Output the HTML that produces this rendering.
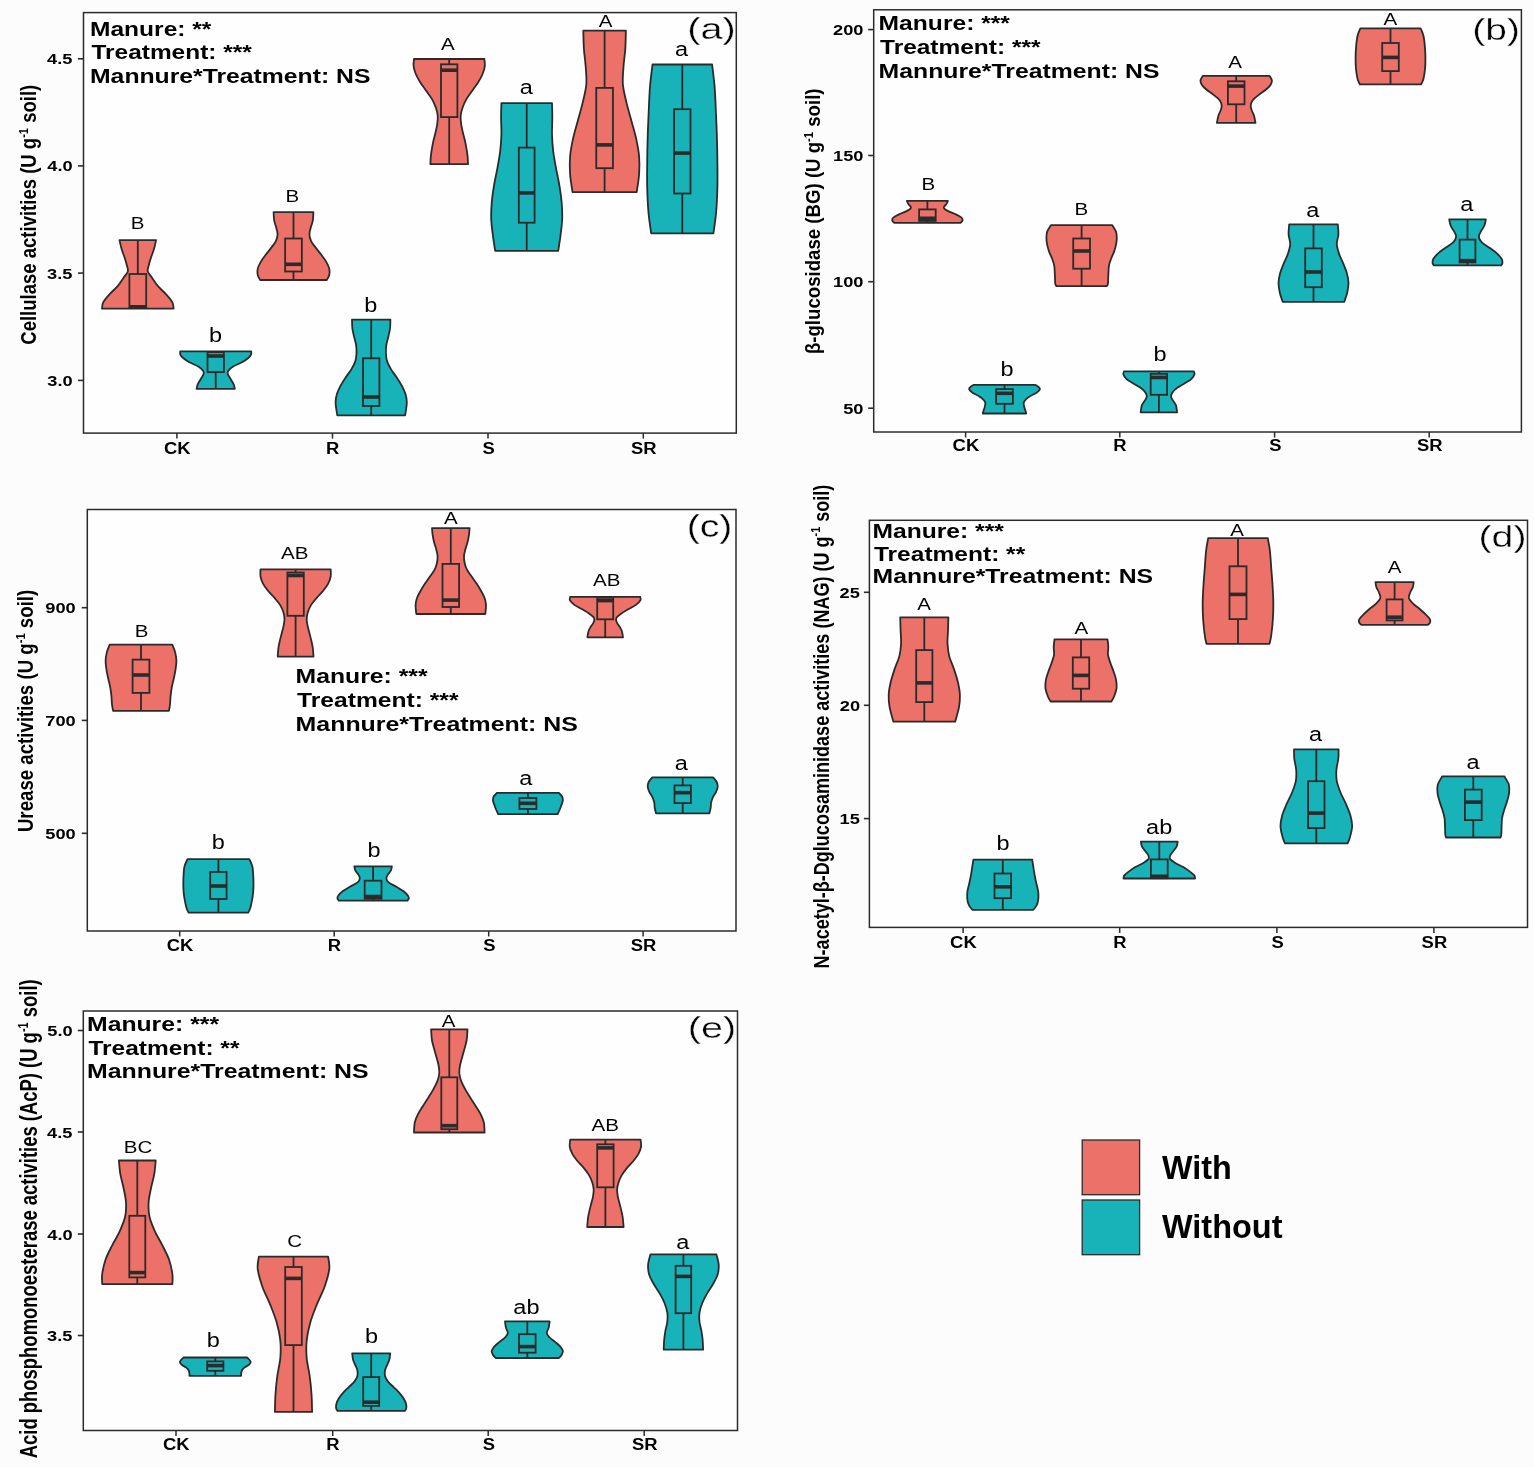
<!DOCTYPE html>
<html><head><meta charset="utf-8"><title>Soil enzyme activities</title>
<style>
html,body{margin:0;padding:0;background:#fcfcfc;}
svg{display:block;font-family:'Liberation Sans', Arial, sans-serif;}
</style></head>
<body>
<svg width="1534" height="1467" viewBox="0 0 1534 1467">
<rect x="0" y="0" width="1534" height="1467" fill="#fcfcfc"/>
<rect x="83.50" y="12.60" width="652.80" height="420.50" fill="#fefefe" stroke="none"/>
<path d="M156.10,240.10 C155.75,241.60 154.83,246.23 154.00,249.10 C153.17,251.97 151.98,254.57 151.10,257.30 C150.22,260.03 149.25,263.13 148.70,265.50 C148.15,267.87 147.25,269.47 147.80,271.50 C148.35,273.53 150.35,275.30 152.00,277.70 C153.65,280.10 155.38,283.17 157.70,285.90 C160.02,288.63 163.45,291.37 165.90,294.10 C168.35,296.83 171.12,299.88 172.40,302.30 C173.68,304.72 173.40,307.55 173.60,308.60 L102.00,308.60 C102.20,307.55 101.92,304.72 103.20,302.30 C104.48,299.88 107.25,296.83 109.70,294.10 C112.15,291.37 115.58,288.63 117.90,285.90 C120.22,283.17 121.95,280.10 123.60,277.70 C125.25,275.30 127.25,273.53 127.80,271.50 C128.35,269.47 127.45,267.87 126.90,265.50 C126.35,263.13 125.38,260.03 124.50,257.30 C123.62,254.57 122.43,251.97 121.60,249.10 C120.77,246.23 119.85,241.60 119.50,240.10 Z" fill="#ec7168" stroke="#2b2b2b" stroke-width="1.8" stroke-linejoin="round"/>
<line x1="137.80" y1="240.10" x2="137.80" y2="274.00" stroke="#2b2b2b" stroke-width="1.8"/>
<line x1="137.80" y1="308.00" x2="137.80" y2="308.60" stroke="#2b2b2b" stroke-width="1.8"/>
<rect x="129.40" y="274.00" width="16.80" height="34.00" fill="#ec7168" stroke="#2b2b2b" stroke-width="1.8"/>
<line x1="129.40" y1="306.80" x2="146.20" y2="306.80" stroke="#2b2b2b" stroke-width="3.6"/>
<text x="130.84" y="229.20" font-size="15.80" font-weight="normal" textLength="13.70" lengthAdjust="spacingAndGlyphs" fill="#000">B</text>
<path d="M251.20,351.40 C251.18,351.90 251.53,353.35 251.10,354.40 C250.67,355.45 250.12,356.40 248.60,357.70 C247.08,359.00 244.58,360.72 242.00,362.20 C239.42,363.68 235.42,365.13 233.10,366.60 C230.78,368.07 228.97,369.72 228.10,371.00 C227.23,372.28 227.52,373.00 227.90,374.30 C228.28,375.60 229.43,377.13 230.40,378.80 C231.37,380.47 232.97,382.63 233.70,384.30 C234.43,385.97 234.62,388.05 234.80,388.80 L196.60,388.80 C196.78,388.05 196.97,385.97 197.70,384.30 C198.43,382.63 200.03,380.47 201.00,378.80 C201.97,377.13 203.12,375.60 203.50,374.30 C203.88,373.00 204.17,372.28 203.30,371.00 C202.43,369.72 200.62,368.07 198.30,366.60 C195.98,365.13 191.98,363.68 189.40,362.20 C186.82,360.72 184.32,359.00 182.80,357.70 C181.28,356.40 180.73,355.45 180.30,354.40 C179.87,353.35 180.22,351.90 180.20,351.40 Z" fill="#17b3b8" stroke="#2b2b2b" stroke-width="1.8" stroke-linejoin="round"/>
<line x1="215.70" y1="351.40" x2="215.70" y2="352.20" stroke="#2b2b2b" stroke-width="1.8"/>
<line x1="215.70" y1="372.10" x2="215.70" y2="388.80" stroke="#2b2b2b" stroke-width="1.8"/>
<rect x="207.50" y="352.20" width="16.40" height="19.90" fill="#17b3b8" stroke="#2b2b2b" stroke-width="1.8"/>
<line x1="207.50" y1="356.00" x2="223.90" y2="356.00" stroke="#2b2b2b" stroke-width="3.6"/>
<text x="208.98" y="341.50" font-size="19.60" font-weight="normal" textLength="13.08" lengthAdjust="spacingAndGlyphs" fill="#000">b</text>
<path d="M313.40,212.20 C313.30,213.62 313.23,218.15 312.80,220.70 C312.37,223.25 311.37,225.23 310.80,227.50 C310.23,229.77 309.35,232.03 309.40,234.30 C309.45,236.57 310.02,238.83 311.10,241.10 C312.18,243.37 314.20,245.62 315.90,247.90 C317.60,250.18 319.60,252.52 321.30,254.80 C323.00,257.08 324.78,259.33 326.10,261.60 C327.42,263.87 328.68,266.13 329.20,268.40 C329.72,270.67 329.60,273.27 329.20,275.20 C328.80,277.13 327.20,279.20 326.80,280.00 L260.20,280.00 C259.80,279.20 258.20,277.13 257.80,275.20 C257.40,273.27 257.28,270.67 257.80,268.40 C258.32,266.13 259.58,263.87 260.90,261.60 C262.22,259.33 264.00,257.08 265.70,254.80 C267.40,252.52 269.40,250.18 271.10,247.90 C272.80,245.62 274.82,243.37 275.90,241.10 C276.98,238.83 277.55,236.57 277.60,234.30 C277.65,232.03 276.77,229.77 276.20,227.50 C275.63,225.23 274.63,223.25 274.20,220.70 C273.77,218.15 273.70,213.62 273.60,212.20 Z" fill="#ec7168" stroke="#2b2b2b" stroke-width="1.8" stroke-linejoin="round"/>
<line x1="293.50" y1="212.20" x2="293.50" y2="238.50" stroke="#2b2b2b" stroke-width="1.8"/>
<line x1="293.50" y1="271.50" x2="293.50" y2="280.00" stroke="#2b2b2b" stroke-width="1.8"/>
<rect x="285.15" y="238.50" width="16.70" height="33.00" fill="#ec7168" stroke="#2b2b2b" stroke-width="1.8"/>
<line x1="285.15" y1="264.30" x2="301.85" y2="264.30" stroke="#2b2b2b" stroke-width="3.6"/>
<text x="285.64" y="202.40" font-size="15.80" font-weight="normal" textLength="13.70" lengthAdjust="spacingAndGlyphs" fill="#000">B</text>
<path d="M390.40,319.60 C390.33,321.10 390.35,325.73 390.00,328.60 C389.65,331.47 388.92,334.07 388.30,336.80 C387.68,339.53 386.70,342.27 386.30,345.00 C385.90,347.73 385.77,350.47 385.90,353.20 C386.03,355.93 386.22,358.67 387.10,361.40 C387.98,364.13 389.57,366.88 391.20,369.60 C392.83,372.32 395.12,374.98 396.90,377.70 C398.68,380.42 400.47,383.17 401.90,385.90 C403.33,388.63 404.68,391.37 405.50,394.10 C406.32,396.83 406.73,399.57 406.80,402.30 C406.87,405.03 406.18,408.32 405.90,410.50 C405.62,412.68 405.23,414.58 405.10,415.40 L337.30,415.40 C337.17,414.58 336.78,412.68 336.50,410.50 C336.22,408.32 335.53,405.03 335.60,402.30 C335.67,399.57 336.08,396.83 336.90,394.10 C337.72,391.37 339.07,388.63 340.50,385.90 C341.93,383.17 343.72,380.42 345.50,377.70 C347.28,374.98 349.57,372.32 351.20,369.60 C352.83,366.88 354.42,364.13 355.30,361.40 C356.18,358.67 356.37,355.93 356.50,353.20 C356.63,350.47 356.50,347.73 356.10,345.00 C355.70,342.27 354.72,339.53 354.10,336.80 C353.48,334.07 352.75,331.47 352.40,328.60 C352.05,325.73 352.07,321.10 352.00,319.60 Z" fill="#17b3b8" stroke="#2b2b2b" stroke-width="1.8" stroke-linejoin="round"/>
<line x1="371.20" y1="319.60" x2="371.20" y2="358.30" stroke="#2b2b2b" stroke-width="1.8"/>
<line x1="371.20" y1="406.00" x2="371.20" y2="415.40" stroke="#2b2b2b" stroke-width="1.8"/>
<rect x="363.00" y="358.30" width="16.40" height="47.70" fill="#17b3b8" stroke="#2b2b2b" stroke-width="1.8"/>
<line x1="363.00" y1="397.00" x2="379.40" y2="397.00" stroke="#2b2b2b" stroke-width="3.6"/>
<text x="364.18" y="312.10" font-size="19.60" font-weight="normal" textLength="13.08" lengthAdjust="spacingAndGlyphs" fill="#000">b</text>
<path d="M484.40,59.00 C484.47,60.23 485.13,63.82 484.80,66.40 C484.47,68.98 483.55,71.78 482.40,74.50 C481.25,77.22 479.62,79.97 477.90,82.70 C476.18,85.43 474.02,88.17 472.10,90.90 C470.18,93.63 467.97,96.37 466.40,99.10 C464.83,101.83 463.65,104.57 462.70,107.30 C461.75,110.03 460.97,112.78 460.70,115.50 C460.43,118.22 460.77,120.88 461.10,123.60 C461.43,126.32 462.08,129.07 462.70,131.80 C463.32,134.53 464.18,137.27 464.80,140.00 C465.42,142.73 465.93,145.47 466.40,148.20 C466.87,150.93 467.33,153.73 467.60,156.40 C467.87,159.07 467.93,162.90 468.00,164.20 L430.40,164.20 C430.47,162.90 430.53,159.07 430.80,156.40 C431.07,153.73 431.53,150.93 432.00,148.20 C432.47,145.47 432.98,142.73 433.60,140.00 C434.22,137.27 435.08,134.53 435.70,131.80 C436.32,129.07 436.97,126.32 437.30,123.60 C437.63,120.88 437.97,118.22 437.70,115.50 C437.43,112.78 436.65,110.03 435.70,107.30 C434.75,104.57 433.57,101.83 432.00,99.10 C430.43,96.37 428.22,93.63 426.30,90.90 C424.38,88.17 422.22,85.43 420.50,82.70 C418.78,79.97 417.15,77.22 416.00,74.50 C414.85,71.78 413.93,68.98 413.60,66.40 C413.27,63.82 413.93,60.23 414.00,59.00 Z" fill="#ec7168" stroke="#2b2b2b" stroke-width="1.8" stroke-linejoin="round"/>
<line x1="449.20" y1="59.00" x2="449.20" y2="64.30" stroke="#2b2b2b" stroke-width="1.8"/>
<line x1="449.20" y1="117.10" x2="449.20" y2="164.20" stroke="#2b2b2b" stroke-width="1.8"/>
<rect x="441.00" y="64.30" width="16.40" height="52.80" fill="#ec7168" stroke="#2b2b2b" stroke-width="1.8"/>
<line x1="441.00" y1="70.20" x2="457.40" y2="70.20" stroke="#2b2b2b" stroke-width="3.6"/>
<text x="441.14" y="50.10" font-size="15.80" font-weight="normal" textLength="13.70" lengthAdjust="spacingAndGlyphs" fill="#000">A</text>
<path d="M552.00,103.10 C552.05,105.50 552.30,112.28 552.30,117.50 C552.30,122.72 551.85,128.78 552.00,134.40 C552.15,140.02 552.53,145.58 553.20,151.20 C553.87,156.82 554.98,162.47 556.00,168.10 C557.02,173.73 558.37,179.37 559.30,185.00 C560.23,190.63 561.12,196.28 561.60,201.90 C562.08,207.52 562.38,213.08 562.20,218.70 C562.02,224.32 561.17,230.25 560.50,235.60 C559.83,240.95 558.58,248.27 558.20,250.80 L495.20,250.80 C494.82,248.27 493.57,240.95 492.90,235.60 C492.23,230.25 491.38,224.32 491.20,218.70 C491.02,213.08 491.32,207.52 491.80,201.90 C492.28,196.28 493.17,190.63 494.10,185.00 C495.03,179.37 496.38,173.73 497.40,168.10 C498.42,162.47 499.53,156.82 500.20,151.20 C500.87,145.58 501.25,140.02 501.40,134.40 C501.55,128.78 501.10,122.72 501.10,117.50 C501.10,112.28 501.35,105.50 501.40,103.10 Z" fill="#17b3b8" stroke="#2b2b2b" stroke-width="1.8" stroke-linejoin="round"/>
<line x1="526.70" y1="103.10" x2="526.70" y2="147.60" stroke="#2b2b2b" stroke-width="1.8"/>
<line x1="526.70" y1="222.70" x2="526.70" y2="250.80" stroke="#2b2b2b" stroke-width="1.8"/>
<rect x="518.80" y="147.60" width="15.80" height="75.10" fill="#17b3b8" stroke="#2b2b2b" stroke-width="1.8"/>
<line x1="518.80" y1="192.90" x2="534.60" y2="192.90" stroke="#2b2b2b" stroke-width="3.6"/>
<text x="519.74" y="93.50" font-size="19.60" font-weight="normal" textLength="13.08" lengthAdjust="spacingAndGlyphs" fill="#000">a</text>
<path d="M625.90,30.60 C625.80,33.65 625.70,42.87 625.30,48.90 C624.90,54.93 623.90,60.83 623.50,66.80 C623.10,72.77 622.40,78.73 622.90,84.70 C623.40,90.67 625.10,96.63 626.50,102.60 C627.90,108.57 629.70,114.53 631.30,120.50 C632.90,126.47 634.80,132.43 636.10,138.40 C637.40,144.37 638.60,150.33 639.10,156.30 C639.60,162.27 639.50,168.23 639.10,174.20 C638.70,180.17 637.10,189.12 636.70,192.10 L572.50,192.10 C572.10,189.12 570.50,180.17 570.10,174.20 C569.70,168.23 569.60,162.27 570.10,156.30 C570.60,150.33 571.80,144.37 573.10,138.40 C574.40,132.43 576.30,126.47 577.90,120.50 C579.50,114.53 581.30,108.57 582.70,102.60 C584.10,96.63 585.80,90.67 586.30,84.70 C586.80,78.73 586.10,72.77 585.70,66.80 C585.30,60.83 584.30,54.93 583.90,48.90 C583.50,42.87 583.40,33.65 583.30,30.60 Z" fill="#ec7168" stroke="#2b2b2b" stroke-width="1.8" stroke-linejoin="round"/>
<line x1="604.60" y1="30.60" x2="604.60" y2="87.90" stroke="#2b2b2b" stroke-width="1.8"/>
<line x1="604.60" y1="168.20" x2="604.60" y2="192.10" stroke="#2b2b2b" stroke-width="1.8"/>
<rect x="596.25" y="87.90" width="16.70" height="80.30" fill="#ec7168" stroke="#2b2b2b" stroke-width="1.8"/>
<line x1="596.25" y1="144.90" x2="612.95" y2="144.90" stroke="#2b2b2b" stroke-width="3.6"/>
<text x="598.84" y="26.80" font-size="15.80" font-weight="normal" textLength="13.70" lengthAdjust="spacingAndGlyphs" fill="#000">A</text>
<path d="M712.10,64.50 C712.52,68.17 713.97,78.63 714.60,86.50 C715.23,94.37 715.52,103.28 715.90,111.70 C716.28,120.12 716.65,128.58 716.90,137.00 C717.15,145.42 717.32,153.80 717.40,162.20 C717.48,170.60 717.62,179.00 717.40,187.40 C717.18,195.80 716.77,204.93 716.10,212.60 C715.43,220.27 713.85,229.93 713.40,233.40 L651.20,233.40 C650.75,229.93 649.17,220.27 648.50,212.60 C647.83,204.93 647.42,195.80 647.20,187.40 C646.98,179.00 647.12,170.60 647.20,162.20 C647.28,153.80 647.45,145.42 647.70,137.00 C647.95,128.58 648.32,120.12 648.70,111.70 C649.08,103.28 649.37,94.37 650.00,86.50 C650.63,78.63 652.08,68.17 652.50,64.50 Z" fill="#17b3b8" stroke="#2b2b2b" stroke-width="1.8" stroke-linejoin="round"/>
<line x1="682.30" y1="64.50" x2="682.30" y2="109.20" stroke="#2b2b2b" stroke-width="1.8"/>
<line x1="682.30" y1="193.50" x2="682.30" y2="233.40" stroke="#2b2b2b" stroke-width="1.8"/>
<rect x="674.10" y="109.20" width="16.40" height="84.30" fill="#17b3b8" stroke="#2b2b2b" stroke-width="1.8"/>
<line x1="674.10" y1="153.10" x2="690.50" y2="153.10" stroke="#2b2b2b" stroke-width="3.6"/>
<text x="674.94" y="55.90" font-size="19.60" font-weight="normal" textLength="13.08" lengthAdjust="spacingAndGlyphs" fill="#000">a</text>
<rect x="83.50" y="12.60" width="652.80" height="420.50" fill="none" stroke="#2b2b2b" stroke-width="1.5"/>
<line x1="78.00" y1="58.80" x2="83.50" y2="58.80" stroke="#2b2b2b" stroke-width="1.6"/>
<text x="47.13" y="64.31" font-size="14.60" font-weight="bold" textLength="25.37" lengthAdjust="spacingAndGlyphs" fill="#000">4.5</text>
<line x1="78.00" y1="165.90" x2="83.50" y2="165.90" stroke="#2b2b2b" stroke-width="1.6"/>
<text x="47.36" y="171.41" font-size="14.60" font-weight="bold" textLength="25.37" lengthAdjust="spacingAndGlyphs" fill="#000">4.0</text>
<line x1="78.00" y1="273.10" x2="83.50" y2="273.10" stroke="#2b2b2b" stroke-width="1.6"/>
<text x="47.13" y="278.61" font-size="14.60" font-weight="bold" textLength="25.37" lengthAdjust="spacingAndGlyphs" fill="#000">3.5</text>
<line x1="78.00" y1="380.40" x2="83.50" y2="380.40" stroke="#2b2b2b" stroke-width="1.6"/>
<text x="47.36" y="385.91" font-size="14.60" font-weight="bold" textLength="25.37" lengthAdjust="spacingAndGlyphs" fill="#000">3.0</text>
<line x1="176.90" y1="433.10" x2="176.90" y2="438.60" stroke="#2b2b2b" stroke-width="1.5"/>
<text x="163.93" y="453.60" font-size="16.00" font-weight="bold" textLength="26.58" lengthAdjust="spacingAndGlyphs" fill="#000">CK</text>
<line x1="332.50" y1="433.10" x2="332.50" y2="438.60" stroke="#2b2b2b" stroke-width="1.5"/>
<text x="326.04" y="453.60" font-size="16.00" font-weight="bold" textLength="13.29" lengthAdjust="spacingAndGlyphs" fill="#000">R</text>
<line x1="488.00" y1="433.10" x2="488.00" y2="438.60" stroke="#2b2b2b" stroke-width="1.5"/>
<text x="482.55" y="453.60" font-size="16.00" font-weight="bold" textLength="12.27" lengthAdjust="spacingAndGlyphs" fill="#000">S</text>
<line x1="643.30" y1="433.10" x2="643.30" y2="438.60" stroke="#2b2b2b" stroke-width="1.5"/>
<text x="631.04" y="453.60" font-size="16.00" font-weight="bold" textLength="25.56" lengthAdjust="spacingAndGlyphs" fill="#000">SR</text>
<text x="90.04" y="35.80" font-size="19.80" font-weight="bold" textLength="121.37" lengthAdjust="spacingAndGlyphs" fill="#000">Manure: **</text>
<text x="91.46" y="58.90" font-size="19.80" font-weight="bold" textLength="160.31" lengthAdjust="spacingAndGlyphs" fill="#000">Treatment: ***</text>
<text x="90.03" y="82.80" font-size="19.80" font-weight="bold" textLength="280.42" lengthAdjust="spacingAndGlyphs" fill="#000">Mannure*Treatment: NS</text>
<text x="687.22" y="39.41" font-size="30.36" font-weight="normal" textLength="48.44" lengthAdjust="spacingAndGlyphs" fill="#000" stroke="#fefefe" stroke-width="0.35">(a)</text>
<text transform="translate(36.34,344.74) rotate(-90)" x="0" y="0" font-size="22.53" font-weight="bold" textLength="259.99" lengthAdjust="spacingAndGlyphs">Cellulase activities (U g<tspan font-size="13.52" dy="-8.56">-1</tspan><tspan dy="8.56"> soil)</tspan></text>
<rect x="873.70" y="9.80" width="647.70" height="422.20" fill="#fefefe" stroke="none"/>
<path d="M947.90,200.80 C947.67,201.32 947.18,202.75 946.50,203.90 C945.82,205.05 943.52,206.50 943.80,207.70 C944.08,208.90 946.18,209.98 948.20,211.10 C950.22,212.22 953.68,213.30 955.90,214.40 C958.12,215.50 960.38,216.68 961.50,217.70 C962.62,218.72 962.78,219.63 962.60,220.50 C962.42,221.37 960.77,222.50 960.40,222.90 L894.40,222.90 C894.03,222.50 892.38,221.37 892.20,220.50 C892.02,219.63 892.18,218.72 893.30,217.70 C894.42,216.68 896.68,215.50 898.90,214.40 C901.12,213.30 904.58,212.22 906.60,211.10 C908.62,209.98 910.72,208.90 911.00,207.70 C911.28,206.50 908.98,205.05 908.30,203.90 C907.62,202.75 907.13,201.32 906.90,200.80 Z" fill="#ec7168" stroke="#2b2b2b" stroke-width="1.8" stroke-linejoin="round"/>
<line x1="927.40" y1="200.80" x2="927.40" y2="209.40" stroke="#2b2b2b" stroke-width="1.8"/>
<line x1="927.40" y1="220.90" x2="927.40" y2="222.90" stroke="#2b2b2b" stroke-width="1.8"/>
<rect x="919.10" y="209.40" width="16.60" height="11.50" fill="#ec7168" stroke="#2b2b2b" stroke-width="1.8"/>
<line x1="919.10" y1="218.30" x2="935.70" y2="218.30" stroke="#2b2b2b" stroke-width="3.6"/>
<text x="921.44" y="189.90" font-size="15.80" font-weight="normal" textLength="13.70" lengthAdjust="spacingAndGlyphs" fill="#000">B</text>
<path d="M1035.50,384.90 C1036.03,385.28 1037.98,386.45 1038.70,387.20 C1039.42,387.95 1040.17,388.48 1039.80,389.40 C1039.43,390.32 1038.07,391.60 1036.50,392.70 C1034.93,393.80 1032.17,394.90 1030.40,396.00 C1028.63,397.10 1027.02,398.18 1025.90,399.30 C1024.78,400.42 1023.97,401.40 1023.70,402.70 C1023.43,404.00 1024.02,405.82 1024.30,407.10 C1024.58,408.38 1025.08,409.33 1025.40,410.40 C1025.72,411.47 1026.07,412.98 1026.20,413.50 L982.80,413.50 C982.93,412.98 983.28,411.47 983.60,410.40 C983.92,409.33 984.42,408.38 984.70,407.10 C984.98,405.82 985.57,404.00 985.30,402.70 C985.03,401.40 984.22,400.42 983.10,399.30 C981.98,398.18 980.37,397.10 978.60,396.00 C976.83,394.90 974.07,393.80 972.50,392.70 C970.93,391.60 969.57,390.32 969.20,389.40 C968.83,388.48 969.58,387.95 970.30,387.20 C971.02,386.45 972.97,385.28 973.50,384.90 Z" fill="#17b3b8" stroke="#2b2b2b" stroke-width="1.8" stroke-linejoin="round"/>
<line x1="1004.50" y1="384.90" x2="1004.50" y2="389.10" stroke="#2b2b2b" stroke-width="1.8"/>
<line x1="1004.50" y1="403.80" x2="1004.50" y2="413.50" stroke="#2b2b2b" stroke-width="1.8"/>
<rect x="996.10" y="389.10" width="16.80" height="14.70" fill="#17b3b8" stroke="#2b2b2b" stroke-width="1.8"/>
<line x1="996.10" y1="393.30" x2="1012.90" y2="393.30" stroke="#2b2b2b" stroke-width="3.6"/>
<text x="1000.48" y="376.20" font-size="19.60" font-weight="normal" textLength="13.08" lengthAdjust="spacingAndGlyphs" fill="#000">b</text>
<path d="M1112.30,225.20 C1112.92,226.27 1115.25,229.42 1116.00,231.60 C1116.75,233.78 1116.80,236.08 1116.80,238.30 C1116.80,240.52 1116.45,242.68 1116.00,244.90 C1115.55,247.12 1114.88,249.38 1114.10,251.60 C1113.32,253.82 1112.13,255.98 1111.30,258.20 C1110.47,260.42 1109.57,262.68 1109.10,264.90 C1108.63,267.12 1108.65,269.28 1108.50,271.50 C1108.35,273.72 1108.30,276.12 1108.20,278.20 C1108.10,280.28 1108.17,282.67 1107.90,284.00 C1107.63,285.33 1106.82,285.83 1106.60,286.20 L1056.60,286.20 C1056.38,285.83 1055.57,285.33 1055.30,284.00 C1055.03,282.67 1055.10,280.28 1055.00,278.20 C1054.90,276.12 1054.85,273.72 1054.70,271.50 C1054.55,269.28 1054.57,267.12 1054.10,264.90 C1053.63,262.68 1052.73,260.42 1051.90,258.20 C1051.07,255.98 1049.88,253.82 1049.10,251.60 C1048.32,249.38 1047.65,247.12 1047.20,244.90 C1046.75,242.68 1046.40,240.52 1046.40,238.30 C1046.40,236.08 1046.45,233.78 1047.20,231.60 C1047.95,229.42 1050.28,226.27 1050.90,225.20 Z" fill="#ec7168" stroke="#2b2b2b" stroke-width="1.8" stroke-linejoin="round"/>
<line x1="1081.60" y1="225.20" x2="1081.60" y2="238.50" stroke="#2b2b2b" stroke-width="1.8"/>
<line x1="1081.60" y1="268.70" x2="1081.60" y2="286.20" stroke="#2b2b2b" stroke-width="1.8"/>
<rect x="1073.20" y="238.50" width="16.80" height="30.20" fill="#ec7168" stroke="#2b2b2b" stroke-width="1.8"/>
<line x1="1073.20" y1="251.00" x2="1090.00" y2="251.00" stroke="#2b2b2b" stroke-width="3.6"/>
<text x="1074.44" y="215.20" font-size="15.80" font-weight="normal" textLength="13.70" lengthAdjust="spacingAndGlyphs" fill="#000">B</text>
<path d="M1193.70,371.30 C1193.83,371.80 1194.87,373.05 1194.50,374.30 C1194.13,375.55 1193.12,377.32 1191.50,378.80 C1189.88,380.28 1187.12,381.73 1184.80,383.20 C1182.48,384.67 1179.62,386.12 1177.60,387.60 C1175.58,389.08 1173.80,390.62 1172.70,392.10 C1171.60,393.58 1170.92,395.03 1171.00,396.50 C1171.08,397.97 1172.37,399.42 1173.20,400.90 C1174.03,402.38 1175.35,403.50 1176.00,405.40 C1176.65,407.30 1176.92,411.15 1177.10,412.30 L1140.70,412.30 C1140.88,411.15 1141.15,407.30 1141.80,405.40 C1142.45,403.50 1143.77,402.38 1144.60,400.90 C1145.43,399.42 1146.72,397.97 1146.80,396.50 C1146.88,395.03 1146.20,393.58 1145.10,392.10 C1144.00,390.62 1142.22,389.08 1140.20,387.60 C1138.18,386.12 1135.32,384.67 1133.00,383.20 C1130.68,381.73 1127.92,380.28 1126.30,378.80 C1124.68,377.32 1123.67,375.55 1123.30,374.30 C1122.93,373.05 1123.97,371.80 1124.10,371.30 Z" fill="#17b3b8" stroke="#2b2b2b" stroke-width="1.8" stroke-linejoin="round"/>
<line x1="1158.90" y1="371.30" x2="1158.90" y2="373.80" stroke="#2b2b2b" stroke-width="1.8"/>
<line x1="1158.90" y1="394.80" x2="1158.90" y2="412.30" stroke="#2b2b2b" stroke-width="1.8"/>
<rect x="1150.70" y="373.80" width="16.40" height="21.00" fill="#17b3b8" stroke="#2b2b2b" stroke-width="1.8"/>
<line x1="1150.70" y1="377.50" x2="1167.10" y2="377.50" stroke="#2b2b2b" stroke-width="3.6"/>
<text x="1153.58" y="361.10" font-size="19.60" font-weight="normal" textLength="13.08" lengthAdjust="spacingAndGlyphs" fill="#000">b</text>
<path d="M1269.60,75.80 C1269.98,76.58 1271.75,78.98 1271.90,80.50 C1272.05,82.02 1271.43,83.43 1270.50,84.90 C1269.57,86.37 1268.02,87.82 1266.30,89.30 C1264.58,90.78 1262.13,92.32 1260.20,93.80 C1258.27,95.28 1256.17,96.73 1254.70,98.20 C1253.23,99.67 1252.05,101.12 1251.40,102.60 C1250.75,104.08 1250.67,105.62 1250.80,107.10 C1250.93,108.58 1251.65,110.03 1252.20,111.50 C1252.75,112.97 1253.55,114.00 1254.10,115.90 C1254.65,117.80 1255.27,121.73 1255.50,122.90 L1216.90,122.90 C1217.13,121.73 1217.75,117.80 1218.30,115.90 C1218.85,114.00 1219.65,112.97 1220.20,111.50 C1220.75,110.03 1221.47,108.58 1221.60,107.10 C1221.73,105.62 1221.65,104.08 1221.00,102.60 C1220.35,101.12 1219.17,99.67 1217.70,98.20 C1216.23,96.73 1214.13,95.28 1212.20,93.80 C1210.27,92.32 1207.82,90.78 1206.10,89.30 C1204.38,87.82 1202.83,86.37 1201.90,84.90 C1200.97,83.43 1200.35,82.02 1200.50,80.50 C1200.65,78.98 1202.42,76.58 1202.80,75.80 Z" fill="#ec7168" stroke="#2b2b2b" stroke-width="1.8" stroke-linejoin="round"/>
<line x1="1236.20" y1="75.80" x2="1236.20" y2="81.30" stroke="#2b2b2b" stroke-width="1.8"/>
<line x1="1236.20" y1="104.30" x2="1236.20" y2="122.90" stroke="#2b2b2b" stroke-width="1.8"/>
<rect x="1227.90" y="81.30" width="16.60" height="23.00" fill="#ec7168" stroke="#2b2b2b" stroke-width="1.8"/>
<line x1="1227.90" y1="86.10" x2="1244.50" y2="86.10" stroke="#2b2b2b" stroke-width="3.6"/>
<text x="1228.34" y="68.30" font-size="15.80" font-weight="normal" textLength="13.70" lengthAdjust="spacingAndGlyphs" fill="#000">A</text>
<path d="M1337.80,224.40 C1337.90,226.07 1338.57,231.12 1338.40,234.40 C1338.23,237.68 1336.68,240.85 1336.80,244.10 C1336.92,247.35 1338.02,250.65 1339.10,253.90 C1340.18,257.15 1342.00,260.37 1343.30,263.60 C1344.60,266.83 1346.03,270.07 1346.90,273.30 C1347.77,276.53 1348.45,279.77 1348.50,283.00 C1348.55,286.23 1347.90,289.57 1347.20,292.70 C1346.50,295.83 1344.78,300.28 1344.30,301.80 L1282.70,301.80 C1282.22,300.28 1280.50,295.83 1279.80,292.70 C1279.10,289.57 1278.45,286.23 1278.50,283.00 C1278.55,279.77 1279.23,276.53 1280.10,273.30 C1280.97,270.07 1282.40,266.83 1283.70,263.60 C1285.00,260.37 1286.82,257.15 1287.90,253.90 C1288.98,250.65 1290.08,247.35 1290.20,244.10 C1290.32,240.85 1288.77,237.68 1288.60,234.40 C1288.43,231.12 1289.10,226.07 1289.20,224.40 Z" fill="#17b3b8" stroke="#2b2b2b" stroke-width="1.8" stroke-linejoin="round"/>
<line x1="1313.50" y1="224.40" x2="1313.50" y2="248.40" stroke="#2b2b2b" stroke-width="1.8"/>
<line x1="1313.50" y1="287.20" x2="1313.50" y2="301.80" stroke="#2b2b2b" stroke-width="1.8"/>
<rect x="1305.20" y="248.40" width="16.60" height="38.80" fill="#17b3b8" stroke="#2b2b2b" stroke-width="1.8"/>
<line x1="1305.20" y1="272.00" x2="1321.80" y2="272.00" stroke="#2b2b2b" stroke-width="3.6"/>
<text x="1306.34" y="217.40" font-size="19.60" font-weight="normal" textLength="13.08" lengthAdjust="spacingAndGlyphs" fill="#000">a</text>
<path d="M1420.60,28.30 C1421.08,29.58 1422.78,32.93 1423.50,36.00 C1424.22,39.07 1424.58,43.13 1424.90,46.70 C1425.22,50.27 1425.37,53.83 1425.40,57.40 C1425.43,60.97 1425.42,64.53 1425.10,68.10 C1424.78,71.67 1424.17,76.08 1423.50,78.80 C1422.83,81.52 1421.50,83.47 1421.10,84.40 L1359.90,84.40 C1359.50,83.47 1358.17,81.52 1357.50,78.80 C1356.83,76.08 1356.22,71.67 1355.90,68.10 C1355.58,64.53 1355.57,60.97 1355.60,57.40 C1355.63,53.83 1355.78,50.27 1356.10,46.70 C1356.42,43.13 1356.78,39.07 1357.50,36.00 C1358.22,32.93 1359.92,29.58 1360.40,28.30 Z" fill="#ec7168" stroke="#2b2b2b" stroke-width="1.8" stroke-linejoin="round"/>
<line x1="1390.50" y1="28.30" x2="1390.50" y2="43.00" stroke="#2b2b2b" stroke-width="1.8"/>
<line x1="1390.50" y1="71.10" x2="1390.50" y2="84.40" stroke="#2b2b2b" stroke-width="1.8"/>
<rect x="1382.20" y="43.00" width="16.60" height="28.10" fill="#ec7168" stroke="#2b2b2b" stroke-width="1.8"/>
<line x1="1382.20" y1="57.40" x2="1398.80" y2="57.40" stroke="#2b2b2b" stroke-width="3.6"/>
<text x="1383.64" y="24.70" font-size="15.80" font-weight="normal" textLength="13.70" lengthAdjust="spacingAndGlyphs" fill="#000">A</text>
<path d="M1485.80,219.40 C1485.57,220.42 1485.18,223.55 1484.40,225.50 C1483.62,227.45 1482.02,229.25 1481.10,231.10 C1480.18,232.95 1478.82,234.77 1478.90,236.60 C1478.98,238.43 1479.85,240.25 1481.60,242.10 C1483.35,243.95 1486.90,245.85 1489.40,247.70 C1491.90,249.55 1494.57,251.35 1496.60,253.20 C1498.63,255.05 1500.63,257.13 1501.60,258.80 C1502.57,260.47 1502.50,262.10 1502.40,263.20 C1502.30,264.30 1501.23,265.03 1501.00,265.40 L1434.00,265.40 C1433.77,265.03 1432.70,264.30 1432.60,263.20 C1432.50,262.10 1432.43,260.47 1433.40,258.80 C1434.37,257.13 1436.37,255.05 1438.40,253.20 C1440.43,251.35 1443.10,249.55 1445.60,247.70 C1448.10,245.85 1451.65,243.95 1453.40,242.10 C1455.15,240.25 1456.02,238.43 1456.10,236.60 C1456.18,234.77 1454.82,232.95 1453.90,231.10 C1452.98,229.25 1451.38,227.45 1450.60,225.50 C1449.82,223.55 1449.43,220.42 1449.20,219.40 Z" fill="#17b3b8" stroke="#2b2b2b" stroke-width="1.8" stroke-linejoin="round"/>
<line x1="1467.50" y1="219.40" x2="1467.50" y2="239.60" stroke="#2b2b2b" stroke-width="1.8"/>
<line x1="1467.50" y1="262.40" x2="1467.50" y2="265.40" stroke="#2b2b2b" stroke-width="1.8"/>
<rect x="1459.60" y="239.60" width="15.80" height="22.80" fill="#17b3b8" stroke="#2b2b2b" stroke-width="1.8"/>
<line x1="1459.60" y1="260.70" x2="1475.40" y2="260.70" stroke="#2b2b2b" stroke-width="3.6"/>
<text x="1460.24" y="210.50" font-size="19.60" font-weight="normal" textLength="13.08" lengthAdjust="spacingAndGlyphs" fill="#000">a</text>
<rect x="873.70" y="9.80" width="647.70" height="422.20" fill="none" stroke="#2b2b2b" stroke-width="1.5"/>
<line x1="868.20" y1="29.60" x2="873.70" y2="29.60" stroke="#2b2b2b" stroke-width="1.6"/>
<text x="833.00" y="35.11" font-size="14.60" font-weight="bold" textLength="30.45" lengthAdjust="spacingAndGlyphs" fill="#000">200</text>
<line x1="868.20" y1="155.50" x2="873.70" y2="155.50" stroke="#2b2b2b" stroke-width="1.6"/>
<text x="833.00" y="161.01" font-size="14.60" font-weight="bold" textLength="30.45" lengthAdjust="spacingAndGlyphs" fill="#000">150</text>
<line x1="868.20" y1="281.70" x2="873.70" y2="281.70" stroke="#2b2b2b" stroke-width="1.6"/>
<text x="833.00" y="287.21" font-size="14.60" font-weight="bold" textLength="30.45" lengthAdjust="spacingAndGlyphs" fill="#000">100</text>
<line x1="868.20" y1="408.20" x2="873.70" y2="408.20" stroke="#2b2b2b" stroke-width="1.6"/>
<text x="843.17" y="413.71" font-size="14.60" font-weight="bold" textLength="20.30" lengthAdjust="spacingAndGlyphs" fill="#000">50</text>
<line x1="965.60" y1="432.00" x2="965.60" y2="437.50" stroke="#2b2b2b" stroke-width="1.5"/>
<text x="952.63" y="451.10" font-size="16.00" font-weight="bold" textLength="26.58" lengthAdjust="spacingAndGlyphs" fill="#000">CK</text>
<line x1="1119.80" y1="432.00" x2="1119.80" y2="437.50" stroke="#2b2b2b" stroke-width="1.5"/>
<text x="1113.34" y="451.10" font-size="16.00" font-weight="bold" textLength="13.29" lengthAdjust="spacingAndGlyphs" fill="#000">R</text>
<line x1="1274.60" y1="432.00" x2="1274.60" y2="437.50" stroke="#2b2b2b" stroke-width="1.5"/>
<text x="1269.15" y="451.10" font-size="16.00" font-weight="bold" textLength="12.27" lengthAdjust="spacingAndGlyphs" fill="#000">S</text>
<line x1="1429.20" y1="432.00" x2="1429.20" y2="437.50" stroke="#2b2b2b" stroke-width="1.5"/>
<text x="1416.94" y="451.10" font-size="16.00" font-weight="bold" textLength="25.56" lengthAdjust="spacingAndGlyphs" fill="#000">SR</text>
<text x="878.64" y="30.00" font-size="19.80" font-weight="bold" textLength="131.31" lengthAdjust="spacingAndGlyphs" fill="#000">Manure: ***</text>
<text x="880.06" y="53.50" font-size="19.80" font-weight="bold" textLength="160.41" lengthAdjust="spacingAndGlyphs" fill="#000">Treatment: ***</text>
<text x="878.63" y="77.70" font-size="19.80" font-weight="bold" textLength="280.82" lengthAdjust="spacingAndGlyphs" fill="#000">Mannure*Treatment: NS</text>
<text x="1472.37" y="39.83" font-size="29.83" font-weight="normal" textLength="47.55" lengthAdjust="spacingAndGlyphs" fill="#000" stroke="#fefefe" stroke-width="0.35">(b)</text>
<text transform="translate(820.32,354.10) rotate(-90)" x="0" y="0" font-size="20.17" font-weight="bold" textLength="265.66" lengthAdjust="spacingAndGlyphs">β-glucosidase (BG) (U g<tspan font-size="12.10" dy="-7.67">-1</tspan><tspan dy="7.67"> soil)</tspan></text>
<rect x="87.30" y="509.50" width="648.70" height="421.50" fill="#fefefe" stroke="none"/>
<path d="M172.30,644.60 C172.78,645.90 174.52,649.65 175.20,652.40 C175.88,655.15 176.35,658.20 176.40,661.10 C176.45,664.00 175.93,666.90 175.50,669.80 C175.07,672.70 174.42,675.62 173.80,678.50 C173.18,681.38 172.33,684.22 171.80,687.10 C171.27,689.98 170.90,692.90 170.60,695.80 C170.30,698.70 170.28,701.98 170.00,704.50 C169.72,707.02 169.08,709.83 168.90,710.90 L113.10,710.90 C112.92,709.83 112.28,707.02 112.00,704.50 C111.72,701.98 111.70,698.70 111.40,695.80 C111.10,692.90 110.73,689.98 110.20,687.10 C109.67,684.22 108.82,681.38 108.20,678.50 C107.58,675.62 106.93,672.70 106.50,669.80 C106.07,666.90 105.55,664.00 105.60,661.10 C105.65,658.20 106.12,655.15 106.80,652.40 C107.48,649.65 109.22,645.90 109.70,644.60 Z" fill="#ec7168" stroke="#2b2b2b" stroke-width="1.8" stroke-linejoin="round"/>
<line x1="141.00" y1="644.60" x2="141.00" y2="659.60" stroke="#2b2b2b" stroke-width="1.8"/>
<line x1="141.00" y1="692.90" x2="141.00" y2="710.90" stroke="#2b2b2b" stroke-width="1.8"/>
<rect x="132.60" y="659.60" width="16.80" height="33.30" fill="#ec7168" stroke="#2b2b2b" stroke-width="1.8"/>
<line x1="132.60" y1="675.00" x2="149.40" y2="675.00" stroke="#2b2b2b" stroke-width="3.6"/>
<text x="134.74" y="637.00" font-size="15.80" font-weight="normal" textLength="13.70" lengthAdjust="spacingAndGlyphs" fill="#000">B</text>
<path d="M249.30,859.10 C249.82,860.35 251.75,863.97 252.40,866.60 C253.05,869.23 253.02,872.13 253.20,874.90 C253.38,877.67 253.50,880.42 253.50,883.20 C253.50,885.98 253.43,888.82 253.20,891.60 C252.97,894.38 252.60,897.13 252.10,899.90 C251.60,902.67 250.85,906.08 250.20,908.20 C249.55,910.32 248.53,911.87 248.20,912.60 L188.60,912.60 C188.27,911.87 187.25,910.32 186.60,908.20 C185.95,906.08 185.20,902.67 184.70,899.90 C184.20,897.13 183.83,894.38 183.60,891.60 C183.37,888.82 183.30,885.98 183.30,883.20 C183.30,880.42 183.42,877.67 183.60,874.90 C183.78,872.13 183.75,869.23 184.40,866.60 C185.05,863.97 186.98,860.35 187.50,859.10 Z" fill="#17b3b8" stroke="#2b2b2b" stroke-width="1.8" stroke-linejoin="round"/>
<line x1="218.40" y1="859.10" x2="218.40" y2="871.90" stroke="#2b2b2b" stroke-width="1.8"/>
<line x1="218.40" y1="899.00" x2="218.40" y2="912.60" stroke="#2b2b2b" stroke-width="1.8"/>
<rect x="210.20" y="871.90" width="16.40" height="27.10" fill="#17b3b8" stroke="#2b2b2b" stroke-width="1.8"/>
<line x1="210.20" y1="886.00" x2="226.60" y2="886.00" stroke="#2b2b2b" stroke-width="3.6"/>
<text x="211.68" y="849.10" font-size="19.60" font-weight="normal" textLength="13.08" lengthAdjust="spacingAndGlyphs" fill="#000">b</text>
<path d="M330.70,569.30 C330.70,570.50 331.12,574.12 330.70,576.50 C330.28,578.88 329.45,581.22 328.20,583.60 C326.95,585.98 325.12,588.42 323.20,590.80 C321.28,593.18 318.73,595.52 316.70,597.90 C314.67,600.28 312.48,602.70 311.00,605.10 C309.52,607.50 308.52,609.92 307.80,612.30 C307.08,614.68 306.70,617.02 306.70,619.40 C306.70,621.78 307.32,624.22 307.80,626.60 C308.28,628.98 309.00,631.32 309.60,633.70 C310.20,636.08 310.87,638.52 311.40,640.90 C311.93,643.28 312.45,645.38 312.80,648.00 C313.15,650.62 313.38,655.17 313.50,656.60 L277.70,656.60 C277.82,655.17 278.05,650.62 278.40,648.00 C278.75,645.38 279.27,643.28 279.80,640.90 C280.33,638.52 281.00,636.08 281.60,633.70 C282.20,631.32 282.92,628.98 283.40,626.60 C283.88,624.22 284.50,621.78 284.50,619.40 C284.50,617.02 284.12,614.68 283.40,612.30 C282.68,609.92 281.68,607.50 280.20,605.10 C278.72,602.70 276.53,600.28 274.50,597.90 C272.47,595.52 269.92,593.18 268.00,590.80 C266.08,588.42 264.25,585.98 263.00,583.60 C261.75,581.22 260.92,578.88 260.50,576.50 C260.08,574.12 260.50,570.50 260.50,569.30 Z" fill="#ec7168" stroke="#2b2b2b" stroke-width="1.8" stroke-linejoin="round"/>
<line x1="295.60" y1="569.30" x2="295.60" y2="572.50" stroke="#2b2b2b" stroke-width="1.8"/>
<line x1="295.60" y1="615.80" x2="295.60" y2="656.60" stroke="#2b2b2b" stroke-width="1.8"/>
<rect x="287.40" y="572.50" width="16.40" height="43.30" fill="#ec7168" stroke="#2b2b2b" stroke-width="1.8"/>
<line x1="287.40" y1="575.50" x2="303.80" y2="575.50" stroke="#2b2b2b" stroke-width="3.6"/>
<text x="281.10" y="559.00" font-size="15.80" font-weight="normal" textLength="27.40" lengthAdjust="spacingAndGlyphs" fill="#000">AB</text>
<path d="M391.90,866.30 C391.72,867.03 391.48,869.32 390.80,870.70 C390.12,872.08 388.53,873.30 387.80,874.60 C387.07,875.90 386.27,877.20 386.40,878.50 C386.53,879.80 386.93,881.02 388.60,882.40 C390.27,883.78 393.90,885.33 396.40,886.80 C398.90,888.27 401.67,889.72 403.60,891.20 C405.53,892.68 407.13,894.50 408.00,895.70 C408.87,896.90 408.90,897.57 408.80,898.40 C408.70,899.23 407.63,900.32 407.40,900.70 L338.80,900.70 C338.57,900.32 337.50,899.23 337.40,898.40 C337.30,897.57 337.33,896.90 338.20,895.70 C339.07,894.50 340.67,892.68 342.60,891.20 C344.53,889.72 347.30,888.27 349.80,886.80 C352.30,885.33 355.93,883.78 357.60,882.40 C359.27,881.02 359.67,879.80 359.80,878.50 C359.93,877.20 359.13,875.90 358.40,874.60 C357.67,873.30 356.08,872.08 355.40,870.70 C354.72,869.32 354.48,867.03 354.30,866.30 Z" fill="#17b3b8" stroke="#2b2b2b" stroke-width="1.8" stroke-linejoin="round"/>
<line x1="373.10" y1="866.30" x2="373.10" y2="880.70" stroke="#2b2b2b" stroke-width="1.8"/>
<line x1="373.10" y1="898.70" x2="373.10" y2="900.70" stroke="#2b2b2b" stroke-width="1.8"/>
<rect x="364.70" y="880.70" width="16.80" height="18.00" fill="#17b3b8" stroke="#2b2b2b" stroke-width="1.8"/>
<line x1="364.70" y1="896.50" x2="381.50" y2="896.50" stroke="#2b2b2b" stroke-width="3.6"/>
<text x="367.48" y="857.30" font-size="19.60" font-weight="normal" textLength="13.08" lengthAdjust="spacingAndGlyphs" fill="#000">b</text>
<path d="M469.60,528.10 C469.48,529.32 469.25,533.03 468.90,535.40 C468.55,537.77 468.08,539.98 467.50,542.30 C466.92,544.62 465.98,546.98 465.40,549.30 C464.82,551.62 464.12,553.88 464.00,556.20 C463.88,558.52 464.17,560.87 464.70,563.20 C465.23,565.53 465.98,567.88 467.20,570.20 C468.42,572.52 470.38,574.78 472.00,577.10 C473.62,579.42 475.38,581.78 476.90,584.10 C478.42,586.42 479.82,588.68 481.10,591.00 C482.38,593.32 483.78,595.68 484.60,598.00 C485.42,600.32 485.88,602.23 486.00,604.90 C486.12,607.57 485.42,612.48 485.30,614.00 L416.30,614.00 C416.18,612.48 415.48,607.57 415.60,604.90 C415.72,602.23 416.18,600.32 417.00,598.00 C417.82,595.68 419.22,593.32 420.50,591.00 C421.78,588.68 423.18,586.42 424.70,584.10 C426.22,581.78 427.98,579.42 429.60,577.10 C431.22,574.78 433.18,572.52 434.40,570.20 C435.62,567.88 436.37,565.53 436.90,563.20 C437.43,560.87 437.72,558.52 437.60,556.20 C437.48,553.88 436.78,551.62 436.20,549.30 C435.62,546.98 434.68,544.62 434.10,542.30 C433.52,539.98 433.05,537.77 432.70,535.40 C432.35,533.03 432.12,529.32 432.00,528.10 Z" fill="#ec7168" stroke="#2b2b2b" stroke-width="1.8" stroke-linejoin="round"/>
<line x1="450.80" y1="528.10" x2="450.80" y2="563.90" stroke="#2b2b2b" stroke-width="1.8"/>
<line x1="450.80" y1="607.00" x2="450.80" y2="614.00" stroke="#2b2b2b" stroke-width="1.8"/>
<rect x="442.50" y="563.90" width="16.60" height="43.10" fill="#ec7168" stroke="#2b2b2b" stroke-width="1.8"/>
<line x1="442.50" y1="600.10" x2="459.10" y2="600.10" stroke="#2b2b2b" stroke-width="3.6"/>
<text x="444.04" y="524.30" font-size="15.80" font-weight="normal" textLength="13.70" lengthAdjust="spacingAndGlyphs" fill="#000">A</text>
<path d="M558.90,792.80 C559.43,793.42 561.45,795.20 562.10,796.50 C562.75,797.80 562.90,799.22 562.80,800.60 C562.70,801.98 561.97,803.40 561.50,804.80 C561.03,806.20 560.65,807.43 560.00,809.00 C559.35,810.57 558.00,813.33 557.60,814.20 L498.20,814.20 C497.80,813.33 496.45,810.57 495.80,809.00 C495.15,807.43 494.77,806.20 494.30,804.80 C493.83,803.40 493.10,801.98 493.00,800.60 C492.90,799.22 493.05,797.80 493.70,796.50 C494.35,795.20 496.37,793.42 496.90,792.80 Z" fill="#17b3b8" stroke="#2b2b2b" stroke-width="1.8" stroke-linejoin="round"/>
<line x1="527.90" y1="792.80" x2="527.90" y2="798.00" stroke="#2b2b2b" stroke-width="1.8"/>
<line x1="527.90" y1="809.00" x2="527.90" y2="814.20" stroke="#2b2b2b" stroke-width="1.8"/>
<rect x="519.40" y="798.00" width="17.00" height="11.00" fill="#17b3b8" stroke="#2b2b2b" stroke-width="1.8"/>
<line x1="519.40" y1="803.30" x2="536.40" y2="803.30" stroke="#2b2b2b" stroke-width="3.6"/>
<text x="519.24" y="785.20" font-size="19.60" font-weight="normal" textLength="13.08" lengthAdjust="spacingAndGlyphs" fill="#000">a</text>
<path d="M640.20,596.90 C640.25,597.45 641.15,598.92 640.50,600.20 C639.85,601.48 638.28,603.12 636.30,604.60 C634.32,606.08 631.08,607.62 628.60,609.10 C626.12,610.58 623.43,612.03 621.40,613.50 C619.37,614.97 617.18,616.43 616.40,617.90 C615.62,619.37 616.15,620.82 616.70,622.30 C617.25,623.78 618.83,625.32 619.70,626.80 C620.57,628.28 621.35,629.45 621.90,631.20 C622.45,632.95 622.82,636.28 623.00,637.30 L587.40,637.30 C587.58,636.28 587.95,632.95 588.50,631.20 C589.05,629.45 589.83,628.28 590.70,626.80 C591.57,625.32 593.15,623.78 593.70,622.30 C594.25,620.82 594.78,619.37 594.00,617.90 C593.22,616.43 591.03,614.97 589.00,613.50 C586.97,612.03 584.28,610.58 581.80,609.10 C579.32,607.62 576.08,606.08 574.10,604.60 C572.12,603.12 570.55,601.48 569.90,600.20 C569.25,598.92 570.15,597.45 570.20,596.90 Z" fill="#ec7168" stroke="#2b2b2b" stroke-width="1.8" stroke-linejoin="round"/>
<line x1="605.20" y1="596.90" x2="605.20" y2="597.70" stroke="#2b2b2b" stroke-width="1.8"/>
<line x1="605.20" y1="619.30" x2="605.20" y2="637.30" stroke="#2b2b2b" stroke-width="1.8"/>
<rect x="597.20" y="597.70" width="16.00" height="21.60" fill="#ec7168" stroke="#2b2b2b" stroke-width="1.8"/>
<line x1="597.20" y1="600.60" x2="613.20" y2="600.60" stroke="#2b2b2b" stroke-width="3.6"/>
<text x="593.00" y="586.40" font-size="15.80" font-weight="normal" textLength="27.40" lengthAdjust="spacingAndGlyphs" fill="#000">AB</text>
<path d="M713.00,777.30 C713.62,778.08 715.92,780.43 716.70,782.00 C717.48,783.57 717.80,785.05 717.70,786.70 C717.60,788.35 716.88,790.17 716.10,791.90 C715.32,793.63 713.82,795.37 713.00,797.10 C712.18,798.83 711.58,800.57 711.20,802.30 C710.82,804.03 711.00,805.67 710.70,807.50 C710.40,809.33 709.62,812.33 709.40,813.30 L656.00,813.30 C655.78,812.33 655.00,809.33 654.70,807.50 C654.40,805.67 654.58,804.03 654.20,802.30 C653.82,800.57 653.22,798.83 652.40,797.10 C651.58,795.37 650.08,793.63 649.30,791.90 C648.52,790.17 647.80,788.35 647.70,786.70 C647.60,785.05 647.92,783.57 648.70,782.00 C649.48,780.43 651.78,778.08 652.40,777.30 Z" fill="#17b3b8" stroke="#2b2b2b" stroke-width="1.8" stroke-linejoin="round"/>
<line x1="682.70" y1="777.30" x2="682.70" y2="785.40" stroke="#2b2b2b" stroke-width="1.8"/>
<line x1="682.70" y1="803.10" x2="682.70" y2="813.30" stroke="#2b2b2b" stroke-width="1.8"/>
<rect x="674.50" y="785.40" width="16.40" height="17.70" fill="#17b3b8" stroke="#2b2b2b" stroke-width="1.8"/>
<line x1="674.50" y1="792.70" x2="690.90" y2="792.70" stroke="#2b2b2b" stroke-width="3.6"/>
<text x="674.84" y="769.70" font-size="19.60" font-weight="normal" textLength="13.08" lengthAdjust="spacingAndGlyphs" fill="#000">a</text>
<rect x="87.30" y="509.50" width="648.70" height="421.50" fill="none" stroke="#2b2b2b" stroke-width="1.5"/>
<line x1="81.80" y1="607.70" x2="87.30" y2="607.70" stroke="#2b2b2b" stroke-width="1.6"/>
<text x="45.30" y="613.21" font-size="14.60" font-weight="bold" textLength="30.45" lengthAdjust="spacingAndGlyphs" fill="#000">900</text>
<line x1="81.80" y1="720.40" x2="87.30" y2="720.40" stroke="#2b2b2b" stroke-width="1.6"/>
<text x="45.30" y="725.91" font-size="14.60" font-weight="bold" textLength="30.45" lengthAdjust="spacingAndGlyphs" fill="#000">700</text>
<line x1="81.80" y1="833.30" x2="87.30" y2="833.30" stroke="#2b2b2b" stroke-width="1.6"/>
<text x="45.30" y="838.81" font-size="14.60" font-weight="bold" textLength="30.45" lengthAdjust="spacingAndGlyphs" fill="#000">500</text>
<line x1="179.70" y1="931.00" x2="179.70" y2="936.50" stroke="#2b2b2b" stroke-width="1.5"/>
<text x="166.73" y="951.00" font-size="16.00" font-weight="bold" textLength="26.58" lengthAdjust="spacingAndGlyphs" fill="#000">CK</text>
<line x1="334.20" y1="931.00" x2="334.20" y2="936.50" stroke="#2b2b2b" stroke-width="1.5"/>
<text x="327.74" y="951.00" font-size="16.00" font-weight="bold" textLength="13.29" lengthAdjust="spacingAndGlyphs" fill="#000">R</text>
<line x1="488.70" y1="931.00" x2="488.70" y2="936.50" stroke="#2b2b2b" stroke-width="1.5"/>
<text x="483.25" y="951.00" font-size="16.00" font-weight="bold" textLength="12.27" lengthAdjust="spacingAndGlyphs" fill="#000">S</text>
<line x1="643.10" y1="931.00" x2="643.10" y2="936.50" stroke="#2b2b2b" stroke-width="1.5"/>
<text x="630.84" y="951.00" font-size="16.00" font-weight="bold" textLength="25.56" lengthAdjust="spacingAndGlyphs" fill="#000">SR</text>
<text x="295.63" y="682.80" font-size="19.80" font-weight="bold" textLength="131.92" lengthAdjust="spacingAndGlyphs" fill="#000">Manure: ***</text>
<text x="297.05" y="706.90" font-size="19.80" font-weight="bold" textLength="161.42" lengthAdjust="spacingAndGlyphs" fill="#000">Treatment: ***</text>
<text x="295.62" y="730.90" font-size="19.80" font-weight="bold" textLength="282.23" lengthAdjust="spacingAndGlyphs" fill="#000">Mannure*Treatment: NS</text>
<text x="686.65" y="537.47" font-size="30.58" font-weight="normal" textLength="45.75" lengthAdjust="spacingAndGlyphs" fill="#000" stroke="#fefefe" stroke-width="0.35">(c)</text>
<text transform="translate(33.27,832.12) rotate(-90)" x="0" y="0" font-size="21.89" font-weight="bold" textLength="242.37" lengthAdjust="spacingAndGlyphs">Urease activities (U g<tspan font-size="13.13" dy="-8.32">-1</tspan><tspan dy="8.32"> soil)</tspan></text>
<rect x="869.40" y="520.30" width="658.10" height="407.10" fill="#fefefe" stroke="none"/>
<path d="M948.40,617.40 C948.33,619.60 948.15,626.28 948.00,630.60 C947.85,634.92 947.30,639.05 947.50,643.30 C947.70,647.55 948.13,651.83 949.20,656.10 C950.27,660.37 952.47,664.63 953.90,668.90 C955.33,673.17 956.80,677.45 957.80,681.70 C958.80,685.95 959.70,690.15 959.90,694.40 C960.10,698.65 959.78,702.65 959.00,707.20 C958.22,711.75 955.83,719.28 955.20,721.70 L893.40,721.70 C892.77,719.28 890.38,711.75 889.60,707.20 C888.82,702.65 888.50,698.65 888.70,694.40 C888.90,690.15 889.80,685.95 890.80,681.70 C891.80,677.45 893.27,673.17 894.70,668.90 C896.13,664.63 898.33,660.37 899.40,656.10 C900.47,651.83 900.90,647.55 901.10,643.30 C901.30,639.05 900.75,634.92 900.60,630.60 C900.45,626.28 900.27,619.60 900.20,617.40 Z" fill="#ec7168" stroke="#2b2b2b" stroke-width="1.8" stroke-linejoin="round"/>
<line x1="924.30" y1="617.40" x2="924.30" y2="650.10" stroke="#2b2b2b" stroke-width="1.8"/>
<line x1="924.30" y1="702.10" x2="924.30" y2="721.70" stroke="#2b2b2b" stroke-width="1.8"/>
<rect x="916.20" y="650.10" width="16.20" height="52.00" fill="#ec7168" stroke="#2b2b2b" stroke-width="1.8"/>
<line x1="916.20" y1="682.90" x2="932.40" y2="682.90" stroke="#2b2b2b" stroke-width="3.6"/>
<text x="917.34" y="609.70" font-size="15.80" font-weight="normal" textLength="13.70" lengthAdjust="spacingAndGlyphs" fill="#000">A</text>
<path d="M1032.20,859.70 C1032.38,860.85 1032.90,864.07 1033.30,866.60 C1033.70,869.13 1034.10,872.13 1034.60,874.90 C1035.10,877.67 1035.70,880.42 1036.30,883.20 C1036.90,885.98 1037.88,888.82 1038.20,891.60 C1038.52,894.38 1038.47,897.60 1038.20,899.90 C1037.93,902.20 1037.42,903.75 1036.60,905.40 C1035.78,907.05 1033.85,909.07 1033.30,909.80 L972.30,909.80 C971.75,909.07 969.82,907.05 969.00,905.40 C968.18,903.75 967.67,902.20 967.40,899.90 C967.13,897.60 967.08,894.38 967.40,891.60 C967.72,888.82 968.70,885.98 969.30,883.20 C969.90,880.42 970.50,877.67 971.00,874.90 C971.50,872.13 971.90,869.13 972.30,866.60 C972.70,864.07 973.22,860.85 973.40,859.70 Z" fill="#17b3b8" stroke="#2b2b2b" stroke-width="1.8" stroke-linejoin="round"/>
<line x1="1002.80" y1="859.70" x2="1002.80" y2="873.50" stroke="#2b2b2b" stroke-width="1.8"/>
<line x1="1002.80" y1="898.20" x2="1002.80" y2="909.80" stroke="#2b2b2b" stroke-width="1.8"/>
<rect x="994.50" y="873.50" width="16.60" height="24.70" fill="#17b3b8" stroke="#2b2b2b" stroke-width="1.8"/>
<line x1="994.50" y1="886.80" x2="1011.10" y2="886.80" stroke="#2b2b2b" stroke-width="3.6"/>
<text x="996.58" y="849.90" font-size="19.60" font-weight="normal" textLength="13.08" lengthAdjust="spacingAndGlyphs" fill="#000">b</text>
<path d="M1107.50,639.40 C1107.63,640.60 1108.22,644.02 1108.30,646.60 C1108.38,649.18 1107.63,652.13 1108.00,654.90 C1108.37,657.67 1109.57,660.42 1110.50,663.20 C1111.43,665.98 1112.67,668.82 1113.60,671.60 C1114.53,674.38 1115.60,677.13 1116.10,679.90 C1116.60,682.67 1116.93,685.43 1116.60,688.20 C1116.27,690.97 1114.97,694.28 1114.10,696.50 C1113.23,698.72 1111.85,700.67 1111.40,701.50 L1050.60,701.50 C1050.15,700.67 1048.77,698.72 1047.90,696.50 C1047.03,694.28 1045.73,690.97 1045.40,688.20 C1045.07,685.43 1045.40,682.67 1045.90,679.90 C1046.40,677.13 1047.47,674.38 1048.40,671.60 C1049.33,668.82 1050.57,665.98 1051.50,663.20 C1052.43,660.42 1053.63,657.67 1054.00,654.90 C1054.37,652.13 1053.62,649.18 1053.70,646.60 C1053.78,644.02 1054.37,640.60 1054.50,639.40 Z" fill="#ec7168" stroke="#2b2b2b" stroke-width="1.8" stroke-linejoin="round"/>
<line x1="1081.00" y1="639.40" x2="1081.00" y2="657.40" stroke="#2b2b2b" stroke-width="1.8"/>
<line x1="1081.00" y1="688.70" x2="1081.00" y2="701.50" stroke="#2b2b2b" stroke-width="1.8"/>
<rect x="1072.80" y="657.40" width="16.40" height="31.30" fill="#ec7168" stroke="#2b2b2b" stroke-width="1.8"/>
<line x1="1072.80" y1="675.40" x2="1089.20" y2="675.40" stroke="#2b2b2b" stroke-width="3.6"/>
<text x="1074.54" y="633.80" font-size="15.80" font-weight="normal" textLength="13.70" lengthAdjust="spacingAndGlyphs" fill="#000">A</text>
<path d="M1177.70,841.60 C1177.55,842.35 1177.45,844.62 1176.80,846.10 C1176.15,847.58 1174.85,849.03 1173.80,850.50 C1172.75,851.97 1171.15,853.52 1170.50,854.90 C1169.85,856.28 1169.17,857.50 1169.90,858.80 C1170.63,860.10 1172.68,861.32 1174.90,862.70 C1177.12,864.08 1180.70,865.62 1183.20,867.10 C1185.70,868.58 1188.05,870.22 1189.90,871.60 C1191.75,872.98 1193.43,874.25 1194.30,875.40 C1195.17,876.55 1194.97,877.98 1195.10,878.50 L1123.50,878.50 C1123.63,877.98 1123.43,876.55 1124.30,875.40 C1125.17,874.25 1126.85,872.98 1128.70,871.60 C1130.55,870.22 1132.90,868.58 1135.40,867.10 C1137.90,865.62 1141.48,864.08 1143.70,862.70 C1145.92,861.32 1147.97,860.10 1148.70,858.80 C1149.43,857.50 1148.75,856.28 1148.10,854.90 C1147.45,853.52 1145.85,851.97 1144.80,850.50 C1143.75,849.03 1142.45,847.58 1141.80,846.10 C1141.15,844.62 1141.05,842.35 1140.90,841.60 Z" fill="#17b3b8" stroke="#2b2b2b" stroke-width="1.8" stroke-linejoin="round"/>
<line x1="1159.30" y1="841.60" x2="1159.30" y2="859.40" stroke="#2b2b2b" stroke-width="1.8"/>
<line x1="1159.30" y1="878.20" x2="1159.30" y2="878.50" stroke="#2b2b2b" stroke-width="1.8"/>
<rect x="1150.90" y="859.40" width="16.80" height="18.80" fill="#17b3b8" stroke="#2b2b2b" stroke-width="1.8"/>
<line x1="1150.90" y1="876.30" x2="1167.70" y2="876.30" stroke="#2b2b2b" stroke-width="3.6"/>
<text x="1146.12" y="833.90" font-size="19.60" font-weight="normal" textLength="26.16" lengthAdjust="spacingAndGlyphs" fill="#000">ab</text>
<path d="M1267.80,538.20 C1268.15,540.27 1269.33,545.70 1269.90,550.60 C1270.47,555.50 1270.77,561.93 1271.20,567.60 C1271.63,573.27 1272.15,578.92 1272.50,584.60 C1272.85,590.28 1273.23,596.02 1273.30,601.70 C1273.37,607.38 1273.25,613.03 1272.90,618.70 C1272.55,624.37 1271.77,631.52 1271.20,635.70 C1270.63,639.88 1269.78,642.45 1269.50,643.80 L1206.50,643.80 C1206.22,642.45 1205.37,639.88 1204.80,635.70 C1204.23,631.52 1203.45,624.37 1203.10,618.70 C1202.75,613.03 1202.63,607.38 1202.70,601.70 C1202.77,596.02 1203.15,590.28 1203.50,584.60 C1203.85,578.92 1204.37,573.27 1204.80,567.60 C1205.23,561.93 1205.53,555.50 1206.10,550.60 C1206.67,545.70 1207.85,540.27 1208.20,538.20 Z" fill="#ec7168" stroke="#2b2b2b" stroke-width="1.8" stroke-linejoin="round"/>
<line x1="1238.00" y1="538.20" x2="1238.00" y2="566.30" stroke="#2b2b2b" stroke-width="1.8"/>
<line x1="1238.00" y1="619.10" x2="1238.00" y2="643.80" stroke="#2b2b2b" stroke-width="1.8"/>
<rect x="1229.50" y="566.30" width="17.00" height="52.80" fill="#ec7168" stroke="#2b2b2b" stroke-width="1.8"/>
<line x1="1229.50" y1="594.40" x2="1246.50" y2="594.40" stroke="#2b2b2b" stroke-width="3.6"/>
<text x="1230.34" y="535.70" font-size="15.80" font-weight="normal" textLength="13.70" lengthAdjust="spacingAndGlyphs" fill="#000">A</text>
<path d="M1338.60,749.40 C1338.55,750.95 1338.67,755.27 1338.30,758.70 C1337.93,762.13 1336.65,766.25 1336.40,770.00 C1336.15,773.75 1336.12,777.45 1336.80,781.20 C1337.48,784.95 1339.00,788.75 1340.50,792.50 C1342.00,796.25 1344.17,799.95 1345.80,803.70 C1347.43,807.45 1349.25,811.25 1350.30,815.00 C1351.35,818.75 1352.17,822.45 1352.10,826.20 C1352.03,829.95 1350.65,834.63 1349.90,837.50 C1349.15,840.37 1347.98,842.42 1347.60,843.40 L1285.00,843.40 C1284.62,842.42 1283.45,840.37 1282.70,837.50 C1281.95,834.63 1280.57,829.95 1280.50,826.20 C1280.43,822.45 1281.25,818.75 1282.30,815.00 C1283.35,811.25 1285.17,807.45 1286.80,803.70 C1288.43,799.95 1290.60,796.25 1292.10,792.50 C1293.60,788.75 1295.12,784.95 1295.80,781.20 C1296.48,777.45 1296.45,773.75 1296.20,770.00 C1295.95,766.25 1294.67,762.13 1294.30,758.70 C1293.93,755.27 1294.05,750.95 1294.00,749.40 Z" fill="#17b3b8" stroke="#2b2b2b" stroke-width="1.8" stroke-linejoin="round"/>
<line x1="1316.30" y1="749.40" x2="1316.30" y2="781.20" stroke="#2b2b2b" stroke-width="1.8"/>
<line x1="1316.30" y1="828.10" x2="1316.30" y2="843.40" stroke="#2b2b2b" stroke-width="1.8"/>
<rect x="1308.10" y="781.20" width="16.40" height="46.90" fill="#17b3b8" stroke="#2b2b2b" stroke-width="1.8"/>
<line x1="1308.10" y1="813.10" x2="1324.50" y2="813.10" stroke="#2b2b2b" stroke-width="3.6"/>
<text x="1309.14" y="740.50" font-size="19.60" font-weight="normal" textLength="13.08" lengthAdjust="spacingAndGlyphs" fill="#000">a</text>
<path d="M1413.70,582.20 C1413.55,583.03 1413.40,585.45 1412.80,587.20 C1412.20,588.95 1410.75,590.85 1410.10,592.70 C1409.45,594.55 1408.35,596.45 1408.90,598.30 C1409.45,600.15 1411.55,601.97 1413.40,603.80 C1415.25,605.63 1417.88,607.45 1420.00,609.30 C1422.12,611.15 1424.43,613.23 1426.10,614.90 C1427.77,616.57 1429.35,618.02 1430.00,619.30 C1430.65,620.58 1430.37,621.67 1430.00,622.60 C1429.63,623.53 1428.17,624.52 1427.80,624.90 L1361.40,624.90 C1361.03,624.52 1359.57,623.53 1359.20,622.60 C1358.83,621.67 1358.55,620.58 1359.20,619.30 C1359.85,618.02 1361.43,616.57 1363.10,614.90 C1364.77,613.23 1367.08,611.15 1369.20,609.30 C1371.32,607.45 1373.95,605.63 1375.80,603.80 C1377.65,601.97 1379.75,600.15 1380.30,598.30 C1380.85,596.45 1379.75,594.55 1379.10,592.70 C1378.45,590.85 1377.00,588.95 1376.40,587.20 C1375.80,585.45 1375.65,583.03 1375.50,582.20 Z" fill="#ec7168" stroke="#2b2b2b" stroke-width="1.8" stroke-linejoin="round"/>
<line x1="1394.60" y1="582.20" x2="1394.60" y2="599.40" stroke="#2b2b2b" stroke-width="1.8"/>
<line x1="1394.60" y1="620.40" x2="1394.60" y2="624.90" stroke="#2b2b2b" stroke-width="1.8"/>
<rect x="1386.60" y="599.40" width="16.00" height="21.00" fill="#ec7168" stroke="#2b2b2b" stroke-width="1.8"/>
<line x1="1386.60" y1="617.20" x2="1402.60" y2="617.20" stroke="#2b2b2b" stroke-width="3.6"/>
<text x="1387.74" y="573.30" font-size="15.80" font-weight="normal" textLength="13.70" lengthAdjust="spacingAndGlyphs" fill="#000">A</text>
<path d="M1504.30,776.30 C1505.05,777.68 1508.00,781.83 1508.80,784.60 C1509.60,787.37 1509.38,790.13 1509.10,792.90 C1508.82,795.67 1507.90,798.42 1507.10,801.20 C1506.30,803.98 1505.13,806.82 1504.30,809.60 C1503.47,812.38 1502.55,815.13 1502.10,817.90 C1501.65,820.67 1501.73,823.43 1501.60,826.20 C1501.47,828.97 1501.48,832.62 1501.30,834.50 C1501.12,836.38 1500.63,837.00 1500.50,837.50 L1446.10,837.50 C1445.97,837.00 1445.48,836.38 1445.30,834.50 C1445.12,832.62 1445.13,828.97 1445.00,826.20 C1444.87,823.43 1444.95,820.67 1444.50,817.90 C1444.05,815.13 1443.13,812.38 1442.30,809.60 C1441.47,806.82 1440.30,803.98 1439.50,801.20 C1438.70,798.42 1437.78,795.67 1437.50,792.90 C1437.22,790.13 1437.00,787.37 1437.80,784.60 C1438.60,781.83 1441.55,777.68 1442.30,776.30 Z" fill="#17b3b8" stroke="#2b2b2b" stroke-width="1.8" stroke-linejoin="round"/>
<line x1="1473.30" y1="776.30" x2="1473.30" y2="789.60" stroke="#2b2b2b" stroke-width="1.8"/>
<line x1="1473.30" y1="820.10" x2="1473.30" y2="837.50" stroke="#2b2b2b" stroke-width="1.8"/>
<rect x="1464.90" y="789.60" width="16.80" height="30.50" fill="#17b3b8" stroke="#2b2b2b" stroke-width="1.8"/>
<line x1="1464.90" y1="802.10" x2="1481.70" y2="802.10" stroke="#2b2b2b" stroke-width="3.6"/>
<text x="1466.54" y="769.40" font-size="19.60" font-weight="normal" textLength="13.08" lengthAdjust="spacingAndGlyphs" fill="#000">a</text>
<rect x="869.40" y="520.30" width="658.10" height="407.10" fill="none" stroke="#2b2b2b" stroke-width="1.5"/>
<line x1="863.90" y1="592.30" x2="869.40" y2="592.30" stroke="#2b2b2b" stroke-width="1.6"/>
<text x="839.54" y="597.81" font-size="14.60" font-weight="bold" textLength="20.30" lengthAdjust="spacingAndGlyphs" fill="#000">25</text>
<line x1="863.90" y1="705.30" x2="869.40" y2="705.30" stroke="#2b2b2b" stroke-width="1.6"/>
<text x="839.77" y="710.81" font-size="14.60" font-weight="bold" textLength="20.30" lengthAdjust="spacingAndGlyphs" fill="#000">20</text>
<line x1="863.90" y1="818.60" x2="869.40" y2="818.60" stroke="#2b2b2b" stroke-width="1.6"/>
<text x="839.54" y="824.11" font-size="14.60" font-weight="bold" textLength="20.30" lengthAdjust="spacingAndGlyphs" fill="#000">15</text>
<line x1="963.10" y1="927.40" x2="963.10" y2="932.90" stroke="#2b2b2b" stroke-width="1.5"/>
<text x="950.13" y="947.80" font-size="16.00" font-weight="bold" textLength="26.58" lengthAdjust="spacingAndGlyphs" fill="#000">CK</text>
<line x1="1119.70" y1="927.40" x2="1119.70" y2="932.90" stroke="#2b2b2b" stroke-width="1.5"/>
<text x="1113.24" y="947.80" font-size="16.00" font-weight="bold" textLength="13.29" lengthAdjust="spacingAndGlyphs" fill="#000">R</text>
<line x1="1276.90" y1="927.40" x2="1276.90" y2="932.90" stroke="#2b2b2b" stroke-width="1.5"/>
<text x="1271.45" y="947.80" font-size="16.00" font-weight="bold" textLength="12.27" lengthAdjust="spacingAndGlyphs" fill="#000">S</text>
<line x1="1433.90" y1="927.40" x2="1433.90" y2="932.90" stroke="#2b2b2b" stroke-width="1.5"/>
<text x="1421.64" y="947.80" font-size="16.00" font-weight="bold" textLength="25.56" lengthAdjust="spacingAndGlyphs" fill="#000">SR</text>
<text x="872.54" y="537.50" font-size="19.80" font-weight="bold" textLength="131.31" lengthAdjust="spacingAndGlyphs" fill="#000">Manure: ***</text>
<text x="873.95" y="560.70" font-size="19.80" font-weight="bold" textLength="151.27" lengthAdjust="spacingAndGlyphs" fill="#000">Treatment: **</text>
<text x="872.53" y="582.90" font-size="19.80" font-weight="bold" textLength="280.62" lengthAdjust="spacingAndGlyphs" fill="#000">Mannure*Treatment: NS</text>
<text x="1478.55" y="546.58" font-size="29.08" font-weight="normal" textLength="47.89" lengthAdjust="spacingAndGlyphs" fill="#000" stroke="#fefefe" stroke-width="0.35">(d)</text>
<text transform="translate(828.86,968.42) rotate(-90)" x="0" y="0" font-size="22.42" font-weight="bold" textLength="483.74" lengthAdjust="spacingAndGlyphs">N-acetyl-β-Dglucosaminidase activities (NAG) (U g<tspan font-size="13.45" dy="-8.52">-1</tspan><tspan dy="8.52"> soil)</tspan></text>
<rect x="83.30" y="1011.00" width="654.20" height="419.50" fill="#fefefe" stroke="none"/>
<path d="M155.70,1160.50 C155.47,1162.73 155.08,1169.28 154.30,1173.90 C153.52,1178.52 151.95,1183.43 151.00,1188.20 C150.05,1192.97 148.85,1197.73 148.60,1202.50 C148.35,1207.27 148.47,1212.03 149.50,1216.80 C150.53,1221.57 152.65,1226.33 154.80,1231.10 C156.95,1235.87 160.02,1240.63 162.40,1245.40 C164.78,1250.17 167.43,1254.93 169.10,1259.70 C170.77,1264.47 171.85,1269.93 172.40,1274.00 C172.95,1278.07 172.40,1282.42 172.40,1284.10 L102.20,1284.10 C102.20,1282.42 101.65,1278.07 102.20,1274.00 C102.75,1269.93 103.83,1264.47 105.50,1259.70 C107.17,1254.93 109.82,1250.17 112.20,1245.40 C114.58,1240.63 117.65,1235.87 119.80,1231.10 C121.95,1226.33 124.07,1221.57 125.10,1216.80 C126.13,1212.03 126.25,1207.27 126.00,1202.50 C125.75,1197.73 124.55,1192.97 123.60,1188.20 C122.65,1183.43 121.08,1178.52 120.30,1173.90 C119.52,1169.28 119.13,1162.73 118.90,1160.50 Z" fill="#ec7168" stroke="#2b2b2b" stroke-width="1.8" stroke-linejoin="round"/>
<line x1="137.30" y1="1160.50" x2="137.30" y2="1215.80" stroke="#2b2b2b" stroke-width="1.8"/>
<line x1="137.30" y1="1277.40" x2="137.30" y2="1284.10" stroke="#2b2b2b" stroke-width="1.8"/>
<rect x="129.30" y="1215.80" width="16.00" height="61.60" fill="#ec7168" stroke="#2b2b2b" stroke-width="1.8"/>
<line x1="129.30" y1="1272.60" x2="145.30" y2="1272.60" stroke="#2b2b2b" stroke-width="3.6"/>
<text x="123.86" y="1153.20" font-size="15.80" font-weight="normal" textLength="28.53" lengthAdjust="spacingAndGlyphs" fill="#000">BC</text>
<path d="M247.10,1357.50 C247.70,1358.20 250.43,1360.48 250.70,1361.70 C250.97,1362.92 249.82,1363.77 248.70,1364.80 C247.58,1365.83 245.18,1366.85 244.00,1367.90 C242.82,1368.95 242.08,1369.78 241.60,1371.10 C241.12,1372.42 241.18,1375.02 241.10,1375.80 L189.50,1375.80 C189.42,1375.02 189.48,1372.42 189.00,1371.10 C188.52,1369.78 187.78,1368.95 186.60,1367.90 C185.42,1366.85 183.02,1365.83 181.90,1364.80 C180.78,1363.77 179.63,1362.92 179.90,1361.70 C180.17,1360.48 182.90,1358.20 183.50,1357.50 Z" fill="#17b3b8" stroke="#2b2b2b" stroke-width="1.8" stroke-linejoin="round"/>
<line x1="215.30" y1="1357.50" x2="215.30" y2="1361.40" stroke="#2b2b2b" stroke-width="1.8"/>
<line x1="215.30" y1="1370.80" x2="215.30" y2="1375.80" stroke="#2b2b2b" stroke-width="1.8"/>
<rect x="207.20" y="1361.40" width="16.20" height="9.40" fill="#17b3b8" stroke="#2b2b2b" stroke-width="1.8"/>
<line x1="207.20" y1="1365.60" x2="223.40" y2="1365.60" stroke="#2b2b2b" stroke-width="3.6"/>
<text x="206.88" y="1346.90" font-size="19.60" font-weight="normal" textLength="13.08" lengthAdjust="spacingAndGlyphs" fill="#000">b</text>
<path d="M328.10,1256.60 C328.30,1258.63 329.88,1263.78 329.30,1268.80 C328.72,1273.82 326.68,1280.73 324.60,1286.70 C322.52,1292.67 319.18,1298.63 316.80,1304.60 C314.42,1310.57 311.98,1316.53 310.30,1322.50 C308.62,1328.47 307.30,1334.45 306.70,1340.40 C306.10,1346.35 306.20,1352.25 306.70,1358.20 C307.20,1364.15 308.90,1370.13 309.70,1376.10 C310.50,1382.07 311.10,1388.03 311.50,1394.00 C311.90,1399.97 312.00,1408.92 312.10,1411.90 L274.90,1411.90 C275.00,1408.92 275.10,1399.97 275.50,1394.00 C275.90,1388.03 276.50,1382.07 277.30,1376.10 C278.10,1370.13 279.80,1364.15 280.30,1358.20 C280.80,1352.25 280.90,1346.35 280.30,1340.40 C279.70,1334.45 278.38,1328.47 276.70,1322.50 C275.02,1316.53 272.58,1310.57 270.20,1304.60 C267.82,1298.63 264.48,1292.67 262.40,1286.70 C260.32,1280.73 258.28,1273.82 257.70,1268.80 C257.12,1263.78 258.70,1258.63 258.90,1256.60 Z" fill="#ec7168" stroke="#2b2b2b" stroke-width="1.8" stroke-linejoin="round"/>
<line x1="293.50" y1="1256.60" x2="293.50" y2="1267.00" stroke="#2b2b2b" stroke-width="1.8"/>
<line x1="293.50" y1="1345.10" x2="293.50" y2="1411.90" stroke="#2b2b2b" stroke-width="1.8"/>
<rect x="285.20" y="1267.00" width="16.60" height="78.10" fill="#ec7168" stroke="#2b2b2b" stroke-width="1.8"/>
<line x1="285.20" y1="1278.40" x2="301.80" y2="1278.40" stroke="#2b2b2b" stroke-width="3.6"/>
<text x="287.25" y="1246.90" font-size="15.80" font-weight="normal" textLength="14.83" lengthAdjust="spacingAndGlyphs" fill="#000">C</text>
<path d="M390.20,1353.30 C390.07,1354.32 389.90,1357.47 389.40,1359.40 C388.90,1361.33 387.93,1363.05 387.20,1364.90 C386.47,1366.75 385.37,1368.65 385.00,1370.50 C384.63,1372.35 384.50,1374.15 385.00,1376.00 C385.50,1377.85 386.57,1379.75 388.00,1381.60 C389.43,1383.45 391.75,1385.27 393.60,1387.10 C395.45,1388.93 397.45,1390.75 399.10,1392.60 C400.75,1394.45 402.35,1396.35 403.50,1398.20 C404.65,1400.05 405.53,1402.05 406.00,1403.70 C406.47,1405.35 406.48,1406.90 406.30,1408.10 C406.12,1409.30 405.13,1410.43 404.90,1410.90 L337.50,1410.90 C337.27,1410.43 336.28,1409.30 336.10,1408.10 C335.92,1406.90 335.93,1405.35 336.40,1403.70 C336.87,1402.05 337.75,1400.05 338.90,1398.20 C340.05,1396.35 341.65,1394.45 343.30,1392.60 C344.95,1390.75 346.95,1388.93 348.80,1387.10 C350.65,1385.27 352.97,1383.45 354.40,1381.60 C355.83,1379.75 356.90,1377.85 357.40,1376.00 C357.90,1374.15 357.77,1372.35 357.40,1370.50 C357.03,1368.65 355.93,1366.75 355.20,1364.90 C354.47,1363.05 353.50,1361.33 353.00,1359.40 C352.50,1357.47 352.33,1354.32 352.20,1353.30 Z" fill="#17b3b8" stroke="#2b2b2b" stroke-width="1.8" stroke-linejoin="round"/>
<line x1="371.20" y1="1353.30" x2="371.20" y2="1377.10" stroke="#2b2b2b" stroke-width="1.8"/>
<line x1="371.20" y1="1405.90" x2="371.20" y2="1410.90" stroke="#2b2b2b" stroke-width="1.8"/>
<rect x="363.20" y="1377.10" width="16.00" height="28.80" fill="#17b3b8" stroke="#2b2b2b" stroke-width="1.8"/>
<line x1="363.20" y1="1402.20" x2="379.20" y2="1402.20" stroke="#2b2b2b" stroke-width="3.6"/>
<text x="364.98" y="1343.40" font-size="19.60" font-weight="normal" textLength="13.08" lengthAdjust="spacingAndGlyphs" fill="#000">b</text>
<path d="M467.50,1029.40 C467.35,1031.25 467.28,1036.62 466.60,1040.50 C465.92,1044.38 464.48,1048.62 463.40,1052.70 C462.32,1056.78 460.78,1061.58 460.10,1065.00 C459.42,1068.42 459.10,1070.47 459.30,1073.20 C459.50,1075.93 460.28,1078.67 461.30,1081.40 C462.32,1084.13 463.90,1086.88 465.40,1089.60 C466.90,1092.32 468.60,1094.98 470.30,1097.70 C472.00,1100.42 473.88,1103.17 475.60,1105.90 C477.32,1108.63 479.23,1111.37 480.60,1114.10 C481.97,1116.83 483.13,1119.23 483.80,1122.30 C484.47,1125.37 484.47,1130.80 484.60,1132.50 L414.00,1132.50 C414.13,1130.80 414.13,1125.37 414.80,1122.30 C415.47,1119.23 416.63,1116.83 418.00,1114.10 C419.37,1111.37 421.28,1108.63 423.00,1105.90 C424.72,1103.17 426.60,1100.42 428.30,1097.70 C430.00,1094.98 431.70,1092.32 433.20,1089.60 C434.70,1086.88 436.28,1084.13 437.30,1081.40 C438.32,1078.67 439.10,1075.93 439.30,1073.20 C439.50,1070.47 439.18,1068.42 438.50,1065.00 C437.82,1061.58 436.28,1056.78 435.20,1052.70 C434.12,1048.62 432.68,1044.38 432.00,1040.50 C431.32,1036.62 431.25,1031.25 431.10,1029.40 Z" fill="#ec7168" stroke="#2b2b2b" stroke-width="1.8" stroke-linejoin="round"/>
<line x1="449.30" y1="1029.40" x2="449.30" y2="1077.30" stroke="#2b2b2b" stroke-width="1.8"/>
<line x1="449.30" y1="1129.20" x2="449.30" y2="1132.50" stroke="#2b2b2b" stroke-width="1.8"/>
<rect x="441.30" y="1077.30" width="16.00" height="51.90" fill="#ec7168" stroke="#2b2b2b" stroke-width="1.8"/>
<line x1="441.30" y1="1125.70" x2="457.30" y2="1125.70" stroke="#2b2b2b" stroke-width="3.6"/>
<text x="441.84" y="1027.00" font-size="15.80" font-weight="normal" textLength="13.70" lengthAdjust="spacingAndGlyphs" fill="#000">A</text>
<path d="M549.60,1321.40 C549.45,1322.42 549.17,1325.55 548.70,1327.50 C548.23,1329.45 546.65,1331.43 546.80,1333.10 C546.95,1334.77 548.22,1336.03 549.60,1337.50 C550.98,1338.97 553.35,1340.43 555.10,1341.90 C556.85,1343.37 558.80,1344.82 560.10,1346.30 C561.40,1347.78 562.63,1349.40 562.90,1350.80 C563.17,1352.20 562.35,1353.50 561.70,1354.70 C561.05,1355.90 559.45,1357.45 559.00,1358.00 L495.60,1358.00 C495.15,1357.45 493.55,1355.90 492.90,1354.70 C492.25,1353.50 491.43,1352.20 491.70,1350.80 C491.97,1349.40 493.20,1347.78 494.50,1346.30 C495.80,1344.82 497.75,1343.37 499.50,1341.90 C501.25,1340.43 503.62,1338.97 505.00,1337.50 C506.38,1336.03 507.65,1334.77 507.80,1333.10 C507.95,1331.43 506.37,1329.45 505.90,1327.50 C505.43,1325.55 505.15,1322.42 505.00,1321.40 Z" fill="#17b3b8" stroke="#2b2b2b" stroke-width="1.8" stroke-linejoin="round"/>
<line x1="527.30" y1="1321.40" x2="527.30" y2="1334.20" stroke="#2b2b2b" stroke-width="1.8"/>
<line x1="527.30" y1="1352.70" x2="527.30" y2="1358.00" stroke="#2b2b2b" stroke-width="1.8"/>
<rect x="519.00" y="1334.20" width="16.60" height="18.50" fill="#17b3b8" stroke="#2b2b2b" stroke-width="1.8"/>
<line x1="519.00" y1="1346.60" x2="535.60" y2="1346.60" stroke="#2b2b2b" stroke-width="3.6"/>
<text x="513.32" y="1313.50" font-size="19.60" font-weight="normal" textLength="26.16" lengthAdjust="spacingAndGlyphs" fill="#000">ab</text>
<path d="M640.60,1139.70 C640.68,1140.83 641.43,1144.18 641.10,1146.50 C640.77,1148.82 639.85,1151.22 638.60,1153.60 C637.35,1155.98 635.52,1158.42 633.60,1160.80 C631.68,1163.18 629.07,1165.52 627.10,1167.90 C625.13,1170.28 623.22,1172.70 621.80,1175.10 C620.38,1177.50 619.38,1179.92 618.60,1182.30 C617.82,1184.68 617.23,1187.02 617.10,1189.40 C616.97,1191.78 617.38,1194.22 617.80,1196.60 C618.22,1198.98 619.00,1201.32 619.60,1203.70 C620.20,1206.08 620.87,1208.52 621.40,1210.90 C621.93,1213.28 622.43,1215.32 622.80,1218.00 C623.17,1220.68 623.47,1225.50 623.60,1227.00 L587.20,1227.00 C587.33,1225.50 587.63,1220.68 588.00,1218.00 C588.37,1215.32 588.87,1213.28 589.40,1210.90 C589.93,1208.52 590.60,1206.08 591.20,1203.70 C591.80,1201.32 592.58,1198.98 593.00,1196.60 C593.42,1194.22 593.83,1191.78 593.70,1189.40 C593.57,1187.02 592.98,1184.68 592.20,1182.30 C591.42,1179.92 590.42,1177.50 589.00,1175.10 C587.58,1172.70 585.67,1170.28 583.70,1167.90 C581.73,1165.52 579.12,1163.18 577.20,1160.80 C575.28,1158.42 573.45,1155.98 572.20,1153.60 C570.95,1151.22 570.03,1148.82 569.70,1146.50 C569.37,1144.18 570.12,1140.83 570.20,1139.70 Z" fill="#ec7168" stroke="#2b2b2b" stroke-width="1.8" stroke-linejoin="round"/>
<line x1="605.40" y1="1139.70" x2="605.40" y2="1144.30" stroke="#2b2b2b" stroke-width="1.8"/>
<line x1="605.40" y1="1187.30" x2="605.40" y2="1227.00" stroke="#2b2b2b" stroke-width="1.8"/>
<rect x="597.20" y="1144.30" width="16.40" height="43.00" fill="#ec7168" stroke="#2b2b2b" stroke-width="1.8"/>
<line x1="597.20" y1="1147.90" x2="613.60" y2="1147.90" stroke="#2b2b2b" stroke-width="3.6"/>
<text x="591.50" y="1131.40" font-size="15.80" font-weight="normal" textLength="27.40" lengthAdjust="spacingAndGlyphs" fill="#000">AB</text>
<path d="M716.40,1254.40 C716.78,1256.10 718.50,1261.20 718.70,1264.60 C718.90,1268.00 718.57,1271.53 717.60,1274.80 C716.63,1278.07 714.67,1281.07 712.90,1284.20 C711.13,1287.33 708.77,1290.47 707.00,1293.60 C705.23,1296.73 703.55,1299.85 702.30,1303.00 C701.05,1306.15 699.97,1309.35 699.50,1312.50 C699.03,1315.65 699.17,1318.77 699.50,1321.90 C699.83,1325.03 700.97,1328.17 701.50,1331.30 C702.03,1334.43 702.43,1337.63 702.70,1340.70 C702.97,1343.77 703.03,1348.20 703.10,1349.70 L663.70,1349.70 C663.77,1348.20 663.83,1343.77 664.10,1340.70 C664.37,1337.63 664.77,1334.43 665.30,1331.30 C665.83,1328.17 666.97,1325.03 667.30,1321.90 C667.63,1318.77 667.77,1315.65 667.30,1312.50 C666.83,1309.35 665.75,1306.15 664.50,1303.00 C663.25,1299.85 661.57,1296.73 659.80,1293.60 C658.03,1290.47 655.67,1287.33 653.90,1284.20 C652.13,1281.07 650.17,1278.07 649.20,1274.80 C648.23,1271.53 647.90,1268.00 648.10,1264.60 C648.30,1261.20 650.02,1256.10 650.40,1254.40 Z" fill="#17b3b8" stroke="#2b2b2b" stroke-width="1.8" stroke-linejoin="round"/>
<line x1="683.40" y1="1254.40" x2="683.40" y2="1265.80" stroke="#2b2b2b" stroke-width="1.8"/>
<line x1="683.40" y1="1313.20" x2="683.40" y2="1349.70" stroke="#2b2b2b" stroke-width="1.8"/>
<rect x="675.60" y="1265.80" width="15.60" height="47.40" fill="#17b3b8" stroke="#2b2b2b" stroke-width="1.8"/>
<line x1="675.60" y1="1276.40" x2="691.20" y2="1276.40" stroke="#2b2b2b" stroke-width="3.6"/>
<text x="676.24" y="1248.60" font-size="19.60" font-weight="normal" textLength="13.08" lengthAdjust="spacingAndGlyphs" fill="#000">a</text>
<rect x="83.30" y="1011.00" width="654.20" height="419.50" fill="none" stroke="#2b2b2b" stroke-width="1.5"/>
<line x1="77.80" y1="1030.50" x2="83.30" y2="1030.50" stroke="#2b2b2b" stroke-width="1.6"/>
<text x="47.36" y="1036.01" font-size="14.60" font-weight="bold" textLength="25.37" lengthAdjust="spacingAndGlyphs" fill="#000">5.0</text>
<line x1="77.80" y1="1132.00" x2="83.30" y2="1132.00" stroke="#2b2b2b" stroke-width="1.6"/>
<text x="47.13" y="1137.51" font-size="14.60" font-weight="bold" textLength="25.37" lengthAdjust="spacingAndGlyphs" fill="#000">4.5</text>
<line x1="77.80" y1="1234.00" x2="83.30" y2="1234.00" stroke="#2b2b2b" stroke-width="1.6"/>
<text x="47.36" y="1239.51" font-size="14.60" font-weight="bold" textLength="25.37" lengthAdjust="spacingAndGlyphs" fill="#000">4.0</text>
<line x1="77.80" y1="1335.50" x2="83.30" y2="1335.50" stroke="#2b2b2b" stroke-width="1.6"/>
<text x="47.13" y="1341.01" font-size="14.60" font-weight="bold" textLength="25.37" lengthAdjust="spacingAndGlyphs" fill="#000">3.5</text>
<line x1="176.00" y1="1430.50" x2="176.00" y2="1436.00" stroke="#2b2b2b" stroke-width="1.5"/>
<text x="163.03" y="1449.80" font-size="16.00" font-weight="bold" textLength="26.58" lengthAdjust="spacingAndGlyphs" fill="#000">CK</text>
<line x1="332.70" y1="1430.50" x2="332.70" y2="1436.00" stroke="#2b2b2b" stroke-width="1.5"/>
<text x="326.24" y="1449.80" font-size="16.00" font-weight="bold" textLength="13.29" lengthAdjust="spacingAndGlyphs" fill="#000">R</text>
<line x1="488.20" y1="1430.50" x2="488.20" y2="1436.00" stroke="#2b2b2b" stroke-width="1.5"/>
<text x="482.75" y="1449.80" font-size="16.00" font-weight="bold" textLength="12.27" lengthAdjust="spacingAndGlyphs" fill="#000">S</text>
<line x1="644.20" y1="1430.50" x2="644.20" y2="1436.00" stroke="#2b2b2b" stroke-width="1.5"/>
<text x="631.94" y="1449.80" font-size="16.00" font-weight="bold" textLength="25.56" lengthAdjust="spacingAndGlyphs" fill="#000">SR</text>
<text x="87.03" y="1031.30" font-size="19.80" font-weight="bold" textLength="132.02" lengthAdjust="spacingAndGlyphs" fill="#000">Manure: ***</text>
<text x="88.46" y="1054.70" font-size="19.80" font-weight="bold" textLength="150.97" lengthAdjust="spacingAndGlyphs" fill="#000">Treatment: **</text>
<text x="87.02" y="1078.20" font-size="19.80" font-weight="bold" textLength="281.63" lengthAdjust="spacingAndGlyphs" fill="#000">Mannure*Treatment: NS</text>
<text x="687.72" y="1038.20" font-size="28.97" font-weight="normal" textLength="48.44" lengthAdjust="spacingAndGlyphs" fill="#000" stroke="#fefefe" stroke-width="0.35">(e)</text>
<text transform="translate(37.41,1458.26) rotate(-90)" x="0" y="0" font-size="23.61" font-weight="bold" textLength="479.00" lengthAdjust="spacingAndGlyphs">Acid phosphomonoesterase activities (AcP) (U g<tspan font-size="14.16" dy="-8.97">-1</tspan><tspan dy="8.97"> soil)</tspan></text>
<rect x="1082.2" y="1140" width="57.4" height="54.7" fill="#ec7168" stroke="#2b2b2b" stroke-width="1.3"/>
<rect x="1082.2" y="1200" width="57.4" height="54.7" fill="#17b3b8" stroke="#2b2b2b" stroke-width="1.3"/>
<text x="1162.00" y="1178.60" font-size="32.70" font-weight="bold" textLength="69.80" lengthAdjust="spacingAndGlyphs" fill="#000">With</text>
<text x="1162.00" y="1237.80" font-size="32.70" font-weight="bold" textLength="120.46" lengthAdjust="spacingAndGlyphs" fill="#000">Without</text>
</svg>
</body></html>
